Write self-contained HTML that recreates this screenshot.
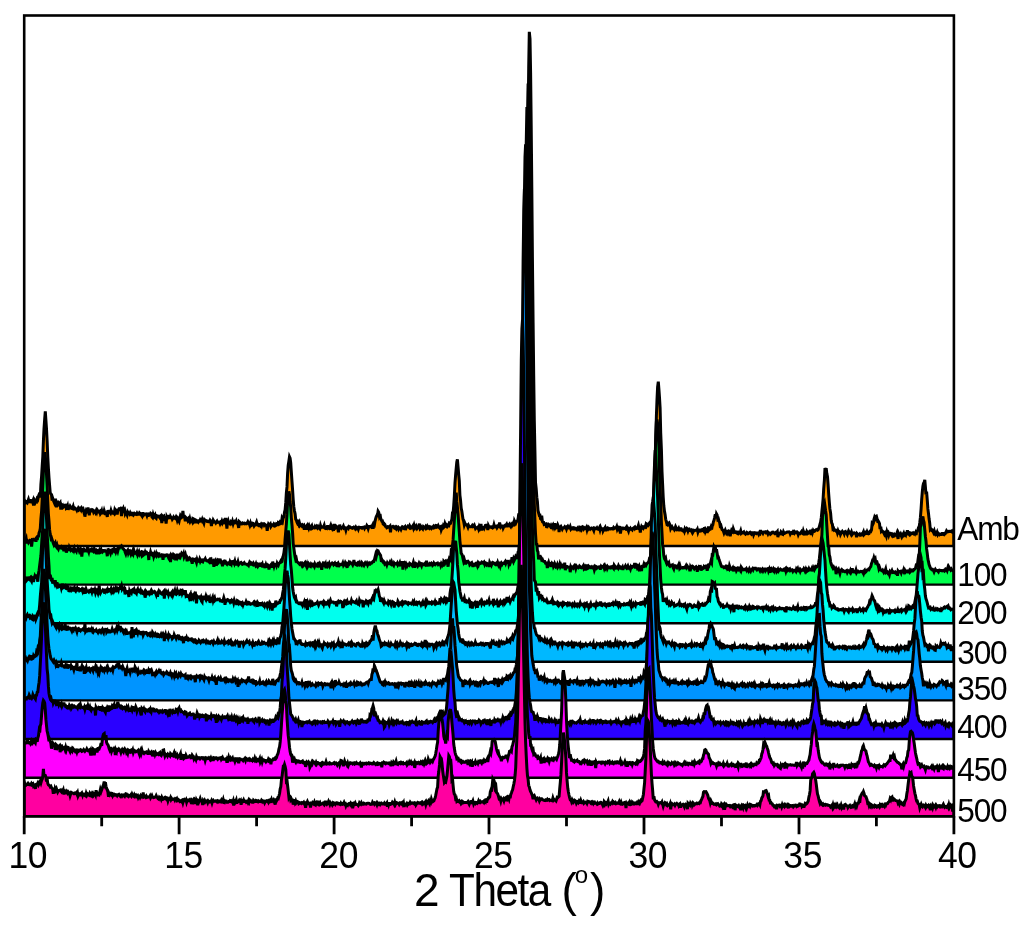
<!DOCTYPE html>
<html><head><meta charset="utf-8"><style>
html,body{margin:0;padding:0;background:#fff;}
svg{display:block;}
text{font-family:"Liberation Sans",Arial,sans-serif;fill:#000;}
</style></head><body>
<svg width="1024" height="929" viewBox="0 0 1024 929">
<rect width="1024" height="929" fill="#fff"/>
<clipPath id="pc"><rect x="24.2" y="0" width="929.7" height="929"/></clipPath>
<g clip-path="url(#pc)" stroke="#000" stroke-width="3.0" stroke-linejoin="miter" stroke-miterlimit="4">
<path fill="#FF9A00" d="M24.2 546V501.3l.6-.4 .6 .8 .7 .8 .6-.6 .6 .7 .6-1.5 .6-1.7 .7 2.4 .6 .1 .6-1.5 .6 .1 .6 .2 .7 1.3 .6-1.4 .6 5 .6-3.5 .6-1.5 .7 1.7 .6-1.2 .6 .4 .6-2.8 .6 .7 .7-3.3 .6-1.4 .6-1.9 .6 4.8 .6-13.2 .7-8.3 .6-10.2 .6-9.1 .6-15.7 .6-12.2 .7-10.1 .6-7.5 .6 8.7 .6 8.9 .6 11.6 .7 16.7 .6 11.2 .6 9.5 .6 7.4 .6 7.2 .7 1.7 .6 .6 .6 5.7 .6-2.2 .6 1.9 .7 1.7 .6-3 .6 2.1 .6 3.1 .6 3.2 .6-4.8 .7 1.3 .6-.8 .6 1.3 .6-.7 .6-.8 .7 6.8 .6-4.7 .6 1.1 .6-.6 .6 1.9 .7-.6 .6-.3 .6-1.2 .6-.1 .6 3.3 .7-.5 .6-1.7 .6 3.5 .6-1.8 .6-.3 .7-1.5 .6 .9 .6 1.4 .6 .2 .6 0 .7-2 .6 2.5 .6-.1 .6-.7 .6 .7 .7 .1 .6 1.2 .6-1.2 .6 .6 .6-1.9 .7 .7 .6 .9 .6-.8 .6 1.3 .6-1.6 .7 1.3 .6-.6 .6 2.3 .6-1.9 .6 7.3 .7-4.3 .6-2 .6 .8 .6-1.2 .6-2.5 .7 3.8 .6 4.1 .6-5.2 .6-.3 .6 .9 .7 .1 .6-1.1 .6 .3 .6 1.9 .6-1 .7-.1 .6 1.4 .6-1.5 .6 1.4 .6-2.2 .7 1 .6 .2 .6 .9 .6-.6 .6 2.3 .7-1 .6-1.7 .6 3 .6-3.5 .6 3.1 .7-2.9 .6 1.9 .6 2.1 .6-3.2 .6 2 .7 3.3 .6-6.7 .6 1.8 .6 .3 .6-.1 .7 .9 .6-2.4 .6 2 .6-.6 .6 .8 .7-.2 .6 .7 .6-3.1 .6 1.5 .6-1.6 .7 .8 .6 3.5 .6-4.2 .6-.3 .6-1.3 .6 0 .7-.4 .6 1.4 .6 6.4 .6-9.3 .6 3.6 .7-1.8 .6 1.9 .6-.7 .6 3.8 .6-1.1 .7 .8 .6 1.5 .6-2.7 .6 1 .6 0 .7 1 .6-1.3 .6 1.2 .6-.4 .6 1.2 .7 .2 .6-2.9 .6 2.2 .6-.9 .6 .4 .7 .5 .6 .2 .6-1.2 .6 1.1 .6-.1 .7-.1 .6-1.3 .6 .6 .6 .4 .6 1.2 .7 1 .6-2.6 .6 0 .6 1.4 .6-.7 .7-.2 .6 0 .6-.1 .6 1.6 .6-2.1 .7 3.1 .6-2.2 .6 .4 .6-.3 .6-1.1 .7 .5 .6 3 .6 .7 .6-2.7 .6 2 .7-1 .6-.9 .6 2.8 .6 .6 .6-2.6 .7 .3 .6 .4 .6-.2 .6 1 .6 .8 .7-1.4 .6 .9 .6 5.6 .6-7 .6 .7 .7-.5 .6 4.7 .6-3.4 .6 .5 .6 5.6 .7-6.8 .6 1.2 .6-1.2 .6 .1 .6-1.8 .7 3.8 .6-2.4 .6 1.1 .6 0 .6 1.6 .7-1 .6-1.2 .6 .9 .6-.1 .6 .5 .7-1.5 .6 1.2 .6 2.3 .6-1.6 .6 1.2 .6 1.2 .7-3.2 .6-2.4 .6 1 .6 1 .6-.5 .7-6.2 .6 5.4 .6 .6 .6 .6 .6 3.7 .7-3.6 .6 .6 .6 .7 .6 1.5 .6-1.4 .7 1.4 .6-1.8 .6 2.6 .6-1.1 .6 0 .7 1.4 .6-3 .6 .3 .6 2.1 .6-1.2 .7 .5 .6 3.1 .6-2.8 .6 .4 .6-.1 .7 1.2 .6-.8 .6 0 .6-1.4 .6 .9 .7 .4 .6-1.5 .6 2.1 .6-.1 .6 1.5 .7-3.4 .6 .6 .6 .1 .6 .3 .6 .6 .7-.1 .6 .5 .6 0 .6-.2 .6-1.4 .7 .9 .6 5 .6-3.8 .6 .1 .6-2.2 .7 1.2 .6 .4 .6 .5 .6 .8 .6-1 .7-.9 .6 1.2 .6-.1 .6 0 .6-.2 .7 1.7 .6-1.3 .6 .6 .6-1.7 .6 1.7 .7-1.3 .6-.9 .6 1.8 .6 .3 .6-4.9 .7 4.4 .6 6.2 .6-6.6 .6-1.4 .6 2.2 .7 0 .6 .8 .6-1.2 .6 1.5 .6-.1 .7-2.3 .6 2.2 .6-1.9 .6-.4 .6 1.3 .7-.3 .6-1.3 .6 2.1 .6 .4 .6 .8 .7 3.5 .6-6.2 .6 .6 .6 1.8 .6 0 .6-.3 .7-.7 .6 .5 .6-.4 .6-.1 .6 .7 .7-.3 .6-.2 .6 .3 .6-.5 .6-1.3 .7 1.3 .6 .5 .6 1.7 .6-1.9 .6 2.3 .7-.5 .6-2.1 .6 .2 .6 .8 .6 1.6 .7-1.2 .6 .3 .6-1.2 .6-1.5 .6 2 .7 1 .6 .4 .6-1 .6 .1 .6 1 .7-1.2 .6 1.3 .6-2.1 .6 .1 .6 0 .7 1.5 .6-.9 .6 .6 .6 .3 .6 0 .7 5.7 .6-4.7 .6-2 .6 .9 .6-.3 .7-.8 .6 2.6 .6-.9 .6-.9 .6-.2 .7 .6 .6-1.3 .6 .6 .6 1.3 .6-.4 .7-1.7 .6 .2 .6 2 .6-3.2 .6 .4 .7-.9 .6 1.3 .6-.6 .6 .3 .6-4.5 .7 1.6 .6-3.6 .6 0 .6-4.3 .6-2.5 .7-7.7 .6-9.7 .6-5.6 .6-13.5 .6-8 .7-4.4 .6-4.2 .6 1.3 .6 4.6 .6 9 .7 9.9 .6 8.5 .6 9.4 .6 7.2 .6 3.9 .7 3.1 .6 5.6 .6 .5 .6 2.2 .6 1.3 .7-1 .6 1.9 .6-1.4 .6 2.5 .6-.8 .7 .9 .6 .7 .6-1 .6 .8 .6-.5 .6 4.3 .7-2.6 .6-.8 .6 0 .6-.7 .6 4.2 .7-3.2 .6 1.5 .6-2 .6 1.5 .6 .7 .7-1.5 .6-1 .6 2.4 .6-.4 .6-.2 .7 .3 .6-1.3 .6 1.1 .6-.1 .6-1.1 .7 1.2 .6-1 .6 1.2 .6 .2 .6 .6 .7-3.2 .6 1.9 .6-.5 .6 .3 .6-.2 .7 .1 .6-1.6 .6 2.6 .6 .4 .6-.4 .7 .3 .6-1.9 .6 0 .6 1.5 .6 .4 .7-.9 .6-1.5 .6 3.7 .6-2.9 .6 1.4 .7-1.9 .6 4.6 .6-7 .6 4.7 .6-.5 .7-2 .6 .5 .6 1 .6 .4 .6 4.4 .7-4.8 .6-2.9 .6 2.7 .6 0 .6 .9 .7-.9 .6 0 .6-1.2 .6 1.7 .6-.5 .7 .6 .6 2.1 .6-2.2 .6 .1 .6-.6 .7 .9 .6-1.5 .6 .6 .6-.3 .6 .4 .7 .5 .6 .2 .6-.6 .6 .2 .6-.7 .7 .3 .6 1.1 .6-1.2 .6 1.2 .6-.6 .7-.3 .6 1.5 .6-1.9 .6 0 .6 .3 .7 .2 .6-.1 .6 .5 .6-.6 .6 .2 .7-.5 .6 1.1 .6-1.3 .6 0 .6 .3 .6-1.7 .7 1 .6 1.9 .6-2 .6 .1 .6-.1 .7-.2 .6 .7 .6-.6 .6-1.2 .6 3.5 .7-4.5 .6 .6 .6-3.5 .6-2.5 .6-2 .7-1.4 .6 .1 .6-4.2 .6 1 .6 3.5 .7-1.9 .6 4 .6 1.9 .6 1.3 .6-.1 .7 2.9 .6 .5 .6-.6 .6 .7 .6 1.9 .7 .4 .6 1 .6-.3 .6-.9 .6 .1 .7 .3 .6-.7 .6 6 .6-5 .6-.6 .7 .1 .6-.4 .6 .6 .6 .7 .6-.6 .7 1.2 .6 .6 .6-1.9 .6 .5 .6-.3 .7 1.8 .6-1.2 .6 .2 .6 .3 .6 1.2 .7-1.7 .6-1 .6 .4 .6 .9 .6-.5 .7-.7 .6 3.1 .6-2.3 .6-.6 .6-.1 .7-.9 .6 .5 .6 .7 .6-1.5 .6 1.1 .7 1.2 .6-.4 .6-.9 .6-.9 .6 1.9 .7-2.4 .6 2.1 .6-1 .6 1.1 .6-1.2 .7 2.1 .6-.7 .6 0 .6-.9 .6-3.3 .7 5.3 .6-.5 .6-1.1 .6 .9 .6 .7 .7-2.2 .6 .5 .6 0 .6 .8 .6-1.3 .7 1.1 .6-1.2 .6 1.7 .6 0 .6-1 .6 .8 .7-1.2 .6 .4 .6 1 .6-.9 .6 .3 .7-1.1 .6 1.3 .6-.2 .6-1.4 .6-.9 .7 .1 .6 1.7 .6-.2 .6-1.2 .6 1.4 .7 .7 .6-1 .6-.3 .6 3.2 .6-1.5 .7-.3 .6-2 .6 1.2 .6-.7 .6-2.8 .7 1.8 .6 .7 .6-1 .6 1 .6-.8 .7 .3 .6-2.6 .6 .4 .6-.2 .6-1.9 .7-2.3 .6-6.2 .6-.1 .6-7 .6-8.9 .7-14 .6-7.7 .6-6.7 .6-6.4 .6-2.7 .7 8 .6 7.2 .6 6.3 .6 14.2 .6 4.7 .7 8.5 .6 2.6 .6 4.3 .6 4 .6 1.7 .7 3.9 .6-1.7 .6 1.4 .6-.1 .6 .1 .7 1.2 .6 1.5 .6-1.7 .6 1.2 .6-.2 .7 .3 .6-.1 .6-.3 .6-.9 .6 .9 .7-.7 .6-.7 .6 1.8 .6 1.6 .6-.8 .7 .3 .6-.6 .6-.4 .6 1.8 .6-2 .7 1.6 .6-1.6 .6-2.7 .6 6.4 .6-3.3 .7 .4 .6 0 .6 1 .6-1.5 .6-1.6 .7-.2 .6 .6 .6 .5 .6 3.7 .6-4.3 .6 1.3 .7 0 .6 .2 .6-.4 .6 .5 .6-.4 .7 .9 .6-.6 .6-2.4 .6 2.1 .6 .1 .7-.7 .6-.2 .6 1.6 .6-.9 .6-1 .7 .5 .6-3.7 .6 2.5 .6 1.9 .6-.7 .7 .5 .6-1.9 .6 3 .6-1.2 .6-.2 .7-1.2 .6 0 .6-.9 .6 2.6 .6-2.2 .7 .8 .6 .1 .6-1.2 .6 1.1 .6 .9 .7-1.9 .6 .9 .6-1.1 .6-1.3 .6 3.3 .7-5.3 .6 1.3 .6 .8 .6-1.4 .6-.5 .7-.5 .6-2.7 .6-4.6 .6 4.9 .6-4.5 .7-1.1 .6-3.1 .6-3.4 .6-6.1 .6-7.6 .7-15.2 .6-19.1 .6-20.1 .6-52.3 .6-50.4 .7-70.1 .6-73.3 .6-72.4 .6-51.8 .6-36 .7 6.9 .6 34.1 .6 53.2 .6 61.7 .6 68.9 .7 66.3 .6 52.9 .6 44.9 .6 29.4 .6 32.3 .7 6.3 .6 8.4 .6 4.5 .6 8.8 .6 2.3 .7 2.6 .6-.1 .6 3.5 .6 .5 .6-3.6 .7 5.9 .6 .7 .6 .1 .6 2.2 .6-.2 .7-.5 .6-.1 .6 4.1 .6-1.7 .6-.9 .7-.9 .6 .5 .6 .8 .6 .9 .6-1.2 .6 1.3 .7-1 .6 1.5 .6-1.9 .6 1.2 .6-3.2 .7 4 .6-1.1 .6 1.4 .6-.3 .6-2.2 .7 1.6 .6 5.4 .6-4.5 .6-.3 .6-.7 .7 1.5 .6 1.1 .6-1.2 .6-.2 .6 0 .7-1 .6 .9 .6-.4 .6 1.7 .6-1.7 .7-1 .6 1.2 .6 .5 .6 .1 .6-1.4 .7 2.4 .6-.7 .6-.5 .6-.2 .6 1 .7-.6 .6 .6 .6-.4 .6 .3 .6 .8 .7-.9 .6-.7 .6 1.6 .6-.6 .6-.8 .7 1.5 .6-1 .6 1 .6-1.8 .6-1 .7 .3 .6 1.8 .6-.8 .6 .6 .6 0 .7-1.2 .6 2.4 .6-2 .6 .9 .6-1.2 .7 1 .6 .7 .6-.8 .6-.3 .6 .5 .7-.3 .6 .8 .6 1.4 .6-2.6 .6 .2 .7 .4 .6 .1 .6-.8 .6 1.2 .6 .3 .7-.5 .6-1.1 .6 2.1 .6-2.2 .6 1.6 .7 .4 .6-2 .6 3.3 .6-1.2 .6-.8 .7-1.1 .6 3.2 .6-2 .6-.7 .6-.3 .7 1.1 .6-.8 .6 .3 .6 .4 .6 0 .7-.5 .6 0 .6 .5 .6-.1 .6-1.3 .6 .8 .7-.6 .6-.2 .6 .5 .6-1.4 .6 2.6 .7-1.4 .6 1 .6-1.8 .6 .1 .6 6.4 .7-4.2 .6-1.3 .6-.1 .6 0 .6 .7 .7-.4 .6-.2 .6 .6 .6-.9 .6 2.7 .7-2.4 .6 1.4 .6 1.5 .6-2.2 .6 .5 .7-1 .6 1 .6 0 .6 .6 .6-1.4 .7-.4 .6-.5 .6 1 .6-1.1 .6 .9 .7 0 .6-.6 .6-.5 .6-1.8 .6 2.8 .7-.1 .6 4.3 .6-3.9 .6-1.8 .6 1.1 .7-.8 .6 .9 .6-1.2 .6-.2 .6 .4 .7-2.4 .6 1.1 .6-1.6 .6 .3 .6 .9 .7-.9 .6-1.6 .6-.7 .6 2.8 .6-6 .7-1.5 .6-6.6 .6-4.6 .6-14 .6-12.5 .7-18 .6-22.3 .6-23.7 .6-16 .6-12.5 .7-5.5 .6 7.5 .6 8.5 .6 10 .6 25.2 .7 16.4 .6 22.2 .6 12.6 .6 13 .6 8.7 .7 5.6 .6 3.2 .6 4.7 .6 2.1 .6 2.5 .7-.5 .6 1.6 .6-.3 .6-1.1 .6 1.3 .7 3.7 .6-1.2 .6-.7 .6 1.3 .6 .6 .7-.3 .6 1.2 .6-1.1 .6-1.8 .6 1.2 .6 2 .7-.1 .6-.3 .6-1.1 .6 1.6 .6 0 .7-1.2 .6 0 .6 1.1 .6 .7 .6 .4 .7-.7 .6 1.3 .6-2.4 .6 1.2 .6-.9 .7-1 .6 .6 .6 1.9 .6-1.6 .6-.2 .7 1.5 .6 .2 .6-.6 .6 1.2 .6-2.5 .7 3.2 .6-1.1 .6-.6 .6 0 .6-.3 .7-.1 .6 .4 .6-1.1 .6 2.7 .6-1.8 .7 .6 .6-.7 .6 0 .6 .9 .6-.2 .7-1.2 .6 .3 .6 .8 .6-2.2 .6-.2 .7 3 .6-1.5 .6-1.8 .6 5 .6-3.3 .7-3.2 .6 3.5 .6-.6 .6-.2 .6-1.8 .7 2.1 .6-3.5 .6-1 .6-3.2 .6-1.5 .7-3 .6-3.1 .6 4.1 .6-4.3 .6 1.1 .7 4.2 .6-.5 .6 2.3 .6 1.1 .6 3.7 .7-.5 .6 2.4 .6 1.7 .6 .5 .6 .7 .7 2.2 .6-1.5 .6-1.2 .6 1.7 .6 1.3 .7-1.1 .6 1.1 .6-1.4 .6-.8 .6 .4 .7 4.8 .6-3.5 .6-1.9 .6 1.2 .6 .3 .7-3.5 .6 1.7 .6 .9 .6 1 .6-.1 .7-.2 .6 1 .6 .4 .6-.9 .6 .8 .6-.6 .7-.2 .6-1.7 .6 2.5 .6-.6 .6 .1 .7-.5 .6-.5 .6 1.3 .6 .2 .6 .7 .7-.6 .6-1.1 .6 .4 .6 .8 .6-.5 .7-.3 .6-.4 .6 .9 .6-.3 .6 1.2 .7-.5 .6-2.1 .6 2.9 .6-1.4 .6-.4 .7 .4 .6 .4 .6-.6 .6 0 .6 0 .7 1.4 .6-1.3 .6 .5 .6-3.5 .6 2.7 .7-.3 .6-.2 .6 1.1 .6-1.2 .6-.1 .7 0 .6-.2 .6 1.2 .6 0 .6-.8 .7 1.7 .6-1.2 .6 .6 .6-.1 .6 1 .7-.6 .6-.7 .6-.7 .6-.1 .6 .8 .7 .1 .6 .5 .6-.9 .6 .5 .6-.7 .7-.9 .6 5.6 .6-3.1 .6-.4 .6 .4 .7-.2 .6-1.9 .6 .8 .6 1.4 .6 .3 .7-2.5 .6 1.2 .6 .3 .6-.3 .6-.5 .7-.2 .6-.5 .6 0 .6 0 .6-.1 .7 .5 .6 1.7 .6-1.1 .6-.3 .6 .5 .7-1 .6 1 .6 .4 .6-1.8 .6 .6 .7 .3 .6-.6 .6-.1 .6 .6 .6 2.1 .6-1.4 .7-.1 .6 .4 .6-1 .6-.8 .6 1.3 .7 .5 .6-2.5 .6 1.9 .6 .6 .6-1.2 .7-.2 .6 3.1 .6-3.4 .6 .9 .6 .3 .7-.9 .6-.5 .6 1 .6-.8 .6 3.1 .7-5.2 .6 2.6 .6-1.8 .6 1 .6-.1 .7-.9 .6-.3 .6-.6 .6 .4 .6 .3 .7-.7 .6-1.6 .6-1.3 .6-2.5 .6-1.9 .7-4.6 .6-6.2 .6-5.8 .6-6.6 .6-10.2 .7-8.9 .6-11.8 .6 1.9 .6-2 .6 5.2 .7 3.5 .6 7.8 .6 9.4 .6 8 .6 6.9 .7 4 .6 7.4 .6 3 .6 1 .6 4.7 .7-.5 .6 1.7 .6-.3 .6 0 .6 1 .7-.3 .6 2.1 .6-1.9 .6 1.5 .6-.8 .7 .5 .6 2.3 .6-1.3 .6-.7 .6-.9 .7 1 .6 .1 .6 1.4 .6-2.1 .6-.3 .7 1.5 .6 .2 .6 1.2 .6-1.9 .6-1.4 .7 1.6 .6-.4 .6 .6 .6 1.2 .6-1.8 .7 2.1 .6-.8 .6-.3 .6-.5 .6 .4 .7 0 .6 1 .6 3 .6-3.6 .6 .6 .7 .5 .6-.1 .6-.6 .6 1.1 .6-.4 .6 .2 .7-1.4 .6-.2 .6-1.3 .6 2.7 .6-.6 .7-1.3 .6 .8 .6 0 .6-1.7 .6 1.4 .7 .5 .6-.2 .6-1.8 .6-.6 .6 .3 .7-1.6 .6-6.1 .6 .8 .6-1.3 .6-3.8 .7-2.3 .6 1.1 .6-1.9 .6-.3 .6 2.2 .7 3 .6-.1 .6 1 .6 1.5 .6 5.3 .7-2.3 .6 4.5 .6-.6 .6 .6 .6 .8 .7 1.1 .6 1.3 .6-1.2 .6 1.2 .6 1.6 .7-4.1 .6 1.7 .6-.8 .6 2.2 .6-1.8 .7 0 .6 .1 .6 1.3 .6 .9 .6-.8 .7 1.6 .6-.4 .6-1.3 .6 .8 .6-.6 .7-.1 .6-1.6 .6 3.3 .6 2.4 .6-5.1 .7 1.5 .6-.3 .6-1 .6 1.6 .6-2.8 .7 2.9 .6-1.2 .6-1.2 .6 1.8 .6-.7 .7 .8 .6-3.1 .6 3.3 .6-5 .6 2.1 .7 1.4 .6 .8 .6-1.1 .6 .7 .6-1 .7 .3 .6-.1 .6-.5 .6 .8 .6-.4 .7 .8 .6-1.3 .6 2.2 .6-3.4 .6-.1 .7-2 .6-2 .6-.9 .6-4.2 .6-5 .7-8.6 .6-9.4 .6-7.5 .6-5.7 .6-2.8 .6-.8 .7-2.7 .6 7.1 .6 7.5 .6-3 .6 7.6 .7 9.8 .6 4.6 .6 5.6 .6 3.8 .6 6.7 .7-.7 .6 .6 .6 1.2 .6 0 .6 1.4 .7-1.4 .6 2.7 .6-.5 .6 1.8 .6-.3 .7-1.9 .6 1.9 .6-1.1 .6 .6 .6 .8 .7-.5 .6 .2 .6 0 .6-.9 .6 0 .7 1 .6 .2 .6-1.1 .6 .1 .6-1.2 .7-1.6 .6 .9 .6 .1 .6-.5 .6 .1 .7-.2 .6 .2 .6-.2 .6 .3 .6-.6 .7 1.3 .6 .3 .6 1.2V546"/>
<path stroke-width="2.4" d="M24.2 546.0H953.9"/>
<path fill="#00FF4C" d="M24.2 584.6V540.8l.6-.4 .6-.4 .7-1.6 .6 5.1 .6-3 .6 .8 .6 1.3 .7-1.2 .6-.8 .6 .4 .6-.5 .6 6 .7-6.5 .6 .1 .6-.6 .6 .4 .6 .1 .7-.9 .6 2.6 .6-4.4 .6 2.8 .6-3.8 .7-.1 .6-3.5 .6-1.5 .6-2.9 .6-9.7 .7-7.5 .6-11.4 .6-13.4 .6-16.2 .6-12.1 .7-5.8 .6 4.7 .6 5.5 .6 11.8 .6 11.1 .7 16.5 .6 12.3 .6 7 .6 8.6 .6 4.5 .7 2.9 .6 4.3 .6-1.8 .6 1.8 .6 1.8 .7 1.8 .6-1.1 .6-1 .6 2.9 .6 .9 .6-1.5 .7 2.8 .6 1 .6-2 .6 .6 .6-.4 .7 .6 .6-.9 .6 .8 .6 .7 .6-.1 .7 2.9 .6-4.3 .6 .2 .6 .4 .6 5 .7-2.7 .6-.7 .6-.5 .6 2.3 .6-3.5 .7 1.5 .6 1.2 .6-.8 .6 .7 .6 .6 .7-1.4 .6 1.3 .6-1.9 .6 2.1 .6-.5 .7 1.1 .6-2.7 .6 2.8 .6-3.3 .6 1 .7 2.2 .6-1.2 .6-1.2 .6 1.6 .6 6 .7-6.3 .6-2.1 .6 4.1 .6-2.4 .6 .7 .7 .2 .6 .3 .6-.1 .6-3.6 .6 2.6 .7 1.9 .6-2.9 .6 3.3 .6-2.2 .6 .5 .7-1.1 .6 1 .6-.8 .6 1.3 .6-1.2 .7 3.6 .6-4.9 .6 3.4 .6 2.4 .6-3.8 .7 .4 .6 .9 .6-1.2 .6 2.3 .6-.2 .7-2.4 .6 2.6 .6-3.4 .6 2 .6-.7 .7 .2 .6-.4 .6 .8 .6 .1 .6-.2 .7 5 .6-6.5 .6-.2 .6 1 .6 .7 .7 1.7 .6-2.8 .6-.2 .6 1.4 .6-1.5 .7-.7 .6 1.3 .6-1.3 .6 .6 .6 2 .7-1.9 .6-.7 .6 1.9 .6-2.5 .6-1.1 .6 .3 .7-1.3 .6 .1 .6-.6 .6 .9 .6 1.5 .7 .6 .6 .7 .6 .5 .6 2.2 .6 1.5 .7-2.4 .6-.4 .6-.8 .6 2.7 .6-1.6 .7-.5 .6 1.6 .6 1.7 .6-1.7 .6 1 .7-2.1 .6 1.8 .6-2.9 .6 1.9 .6 1.1 .7-.3 .6 .8 .6-1.7 .6 2.5 .6-1.6 .7-1.3 .6 2.2 .6-1.3 .6 .6 .6 1.4 .7-2.9 .6 .2 .6 3.5 .6-.5 .6-.4 .7-2.1 .6 1.6 .6-.2 .6-1 .6 .8 .7-.1 .6 6.6 .6-7.5 .6 2.2 .6-2.6 .7 2.3 .6 .5 .6-1.5 .6 .3 .6 2.7 .7-2.3 .6 1.8 .6-.6 .6-1.7 .6 1.9 .7-1.3 .6 .9 .6-2.5 .6 2.3 .6 1.3 .7-.1 .6-.1 .6-1.1 .6 .3 .6 4.7 .7-4.8 .6 .1 .6-.1 .6 .6 .6-.4 .7-.5 .6 .1 .6 1.5 .6 1.4 .6-1 .7-1.1 .6 6.4 .6-5.4 .6-1 .6 1.2 .7 .6 .6-3 .6 .5 .6 1.8 .6-1.6 .7 5 .6-2.4 .6-4.1 .6 3.7 .6-.9 .6 .7 .7-1.6 .6 1.1 .6-1.8 .6-1.4 .6 .9 .7 .8 .6-1.5 .6 3.2 .6-1.4 .6-1.3 .7 3 .6 .5 .6 3.6 .6-3.1 .6 .9 .7-.1 .6-.9 .6 .7 .6 1.2 .6-.4 .7 4.2 .6-4.6 .6-.2 .6 .2 .6 .9 .7-.6 .6 1.5 .6 1.6 .6-2.8 .6 1.7 .7-.6 .6 .3 .6-1.8 .6 1.9 .6-1.4 .7 .8 .6 .8 .6 .3 .6-1.9 .6 .1 .7-.3 .6-1 .6 1.6 .6 0 .6 .5 .7-.2 .6 .5 .6 .6 .6-2.8 .6 3.8 .7-5.2 .6 6.5 .6-3.1 .6 1.1 .6-.7 .7 5.5 .6-4.5 .6-1 .6 4.5 .6-3.9 .7-1.1 .6 1.7 .6-1.4 .6 1 .6-.9 .7-2.5 .6 2.8 .6 1.2 .6-.2 .6 3.7 .7-4.5 .6-.5 .6-.2 .6 1.5 .6-.5 .7 1.7 .6 .6 .6-1.2 .6-.2 .6 .9 .7 .3 .6-2.2 .6 1.3 .6 .9 .6-3.7 .7 2.1 .6 .5 .6-.9 .6 1.4 .6-2.1 .7 2.9 .6-.1 .6-1.1 .6 .7 .6-2 .7 2.8 .6-.7 .6-.9 .6-.2 .6-.4 .6 .7 .7 1.1 .6-.3 .6-.5 .6-.6 .6 1.1 .7 .1 .6 .2 .6 .2 .6 .5 .6-.5 .7 .9 .6-1.7 .6 1.9 .6-3.3 .6 .4 .7 .6 .6 1.2 .6 .4 .6-1.5 .6 1 .7-.3 .6 1.2 .6-1.5 .6 1.7 .6-.7 .7 1.7 .6-.9 .6-1 .6 .9 .6 0 .7-1 .6 .8 .6-1.1 .6 3.3 .6-2.6 .7 .1 .6 1.8 .6-.1 .6-1.9 .6 1.7 .7-.3 .6-1 .6 .8 .6 3.6 .6-3.1 .7-1 .6-.7 .6 .7 .6 2.2 .6-5.9 .7 2.2 .6 2.2 .6-2.1 .6 2.6 .6-3.4 .7 2.1 .6-2.2 .6 1.2 .6 .9 .6-1.7 .7-.6 .6-.7 .6-1.2 .6 1 .6-.4 .7-4.3 .6-1.6 .6-2.8 .6-5 .6-8.7 .7-8.4 .6-7.1 .6-9.3 .6-14.3 .6-2.2 .7-6.6 .6 3.3 .6 7.4 .6 5.1 .6 10.5 .7 7.4 .6 7.8 .6 10.8 .6 4.3 .6 4.3 .7 4.8 .6 2.6 .6-1 .6 3 .6 .4 .7 .9 .6 .3 .6 .7 .6-.9 .6-.2 .7 1.7 .6 1.1 .6-1.2 .6 1.5 .6-.7 .6-1.6 .7-.9 .6 1.8 .6 1.3 .6-1.6 .6 2.7 .7-1.3 .6-2 .6 .7 .6 1.9 .6 .3 .7-2.3 .6 .8 .6 .5 .6-.9 .6 .8 .7 1.2 .6-2.4 .6 1.3 .6 .3 .6 .2 .7-1.4 .6 .9 .6-1.3 .6 .8 .6-1.3 .7 1.3 .6 .2 .6 4.7 .6-4.3 .6-1.7 .7-2.1 .6 3.8 .6-.2 .6-1.3 .6 4.1 .7-3.2 .6-.8 .6 1.5 .6-1.2 .6-1.1 .7 2.3 .6-1.4 .6 0 .6-.7 .6-.6 .7 .5 .6 1.1 .6-1 .6-.6 .6 1.6 .7 .5 .6-1.6 .6 .1 .6-.5 .6 4 .7-2.6 .6-.2 .6 .6 .6-.1 .6-.3 .7-.1 .6-1.4 .6 2.1 .6-1.1 .6 .5 .7-1.9 .6 1.1 .6 .6 .6 3.6 .6-4 .7 .5 .6-1.8 .6 .8 .6-1 .6 .6 .7 .3 .6 .6 .6 1.1 .6-1.6 .6-3.3 .7 3.3 .6 .6 .6 .6 .6 .3 .6-1.5 .7-.6 .6 1.5 .6-.7 .6-.9 .6 2 .7-.4 .6 .7 .6-2.1 .6 .8 .6 .6 .7 1.1 .6-1.4 .6-1 .6 1.1 .6 .1 .6-1 .7 1.7 .6-1.3 .6-.5 .6 1.1 .6 0 .7-1.2 .6 .1 .6-.2 .6-.9 .6-.7 .7 .1 .6-1.5 .6-2.6 .6-2.5 .6 1.9 .7-3 .6-3.1 .6 .3 .6 1.7 .6 .7 .7 1.3 .6 .8 .6 4.5 .6-.3 .6 1.7 .7 .9 .6-.7 .6 .7 .6 2 .6-.5 .7-.4 .6 1.6 .6-2 .6 1 .6-.2 .7-.1 .6-1.3 .6 1.6 .6 .4 .6-1.9 .7 2.1 .6 0 .6 .8 .6-2.2 .6 .8 .7-.2 .6 .3 .6 .3 .6-1.1 .6 1.7 .7-1.1 .6 .3 .6-1.4 .6 2.2 .6-.3 .7 .5 .6-3.9 .6 8.4 .6-6.1 .6-.6 .7 1.5 .6-.8 .6 2.5 .6-1.5 .6 1.1 .7-1.6 .6 .1 .6 .7 .6-1.5 .6 .5 .7 .8 .6 0 .6 .9 .6-1.2 .6-2.1 .7 2.6 .6 2.7 .6-2.9 .6-1.2 .6 .4 .7 .6 .6 1.3 .6-1.1 .6-1.5 .6 1.3 .7-.8 .6 1 .6 1.2 .6-2.1 .6 .1 .7 .8 .6-.2 .6-.6 .6 .8 .6-.8 .7-3.2 .6 5.6 .6-2 .6 .4 .6 .2 .6-1.1 .7 .7 .6-.9 .6-.5 .6 .8 .6 1.5 .7-.7 .6-1.5 .6 1 .6 .5 .6-.7 .7-.6 .6 .2 .6-.4 .6 1.3 .6-.6 .7 0 .6-.3 .6 1.8 .6-1.8 .6 1 .7-2.6 .6 4.7 .6-5.3 .6 .7 .6 1 .7-1.5 .6 .8 .6-1 .6 1.1 .6 4.2 .7-6.5 .6-2.1 .6 .6 .6 1 .6-8.3 .7 .8 .6-6.8 .6-5.7 .6-9.8 .6-9.1 .7-10.2 .6-9 .6-8.9 .6 8.7 .6 5.7 .7 7.6 .6 9.1 .6 8.3 .6 8.7 .6 5.6 .7 6.8 .6 1 .6 1.3 .6 3.2 .6 2.6 .7-1.9 .6 2.1 .6 3 .6-2.4 .6-.5 .7 .4 .6-.6 .6 .7 .6 .6 .6 2.1 .7-.7 .6-1.1 .6-.4 .6 1.6 .6 2.8 .7-4.1 .6 2.3 .6 0 .6-1.5 .6-.4 .7 .7 .6 1.6 .6-2.1 .6 1.3 .6-1.8 .7 .7 .6-.3 .6-.4 .6-.7 .6 .6 .7-.4 .6 .7 .6-.8 .6 1.8 .6-1.4 .7 .5 .6 1.2 .6-.9 .6 .4 .6 0 .6 2.9 .7-4.4 .6 1.3 .6-.4 .6 1.5 .6-1.5 .7-.9 .6 .3 .6 .3 .6 .9 .6 .4 .7-.8 .6 1.1 .6-.1 .6-2 .6 1.7 .7-2.5 .6 2.9 .6 1.8 .6-2.1 .6-1.3 .7 1.1 .6-1.1 .6 .1 .6 .2 .6-.9 .7-1 .6 1.8 .6-1.5 .6 .6 .6 0 .7-2.2 .6 3.9 .6-1.6 .6 .9 .6-1.7 .7-.3 .6-4.2 .6 3 .6 1.2 .6-2.9 .7 1.2 .6-1.5 .6-1.8 .6 .8 .6 1.8 .7-4 .6 1 .6-6.4 .6 1.1 .6-2.5 .7-1.3 .6-5.3 .6-2.5 .6-15.5 .6-18.5 .7-24.7 .6-37.1 .6-45.8 .6-63.2 .6-75 .7-68.7 .6-68.6 .6-38.5 .6 4.1 .6 2.9 .7 47.4 .6 61.3 .6 68.5 .6 65.6 .6 52.7 .7 60.1 .6 31.4 .6 26.5 .6 15.9 .6 13.8 .7 10.4 .6 .1 .6 6.4 .6 1.3 .6 7.6 .7-3 .6 .6 .6-.4 .6 1 .6 2.2 .7-.4 .6 1.5 .6 .1 .6 .5 .6 0 .7 1.5 .6-.1 .6 0 .6 5 .6-3.5 .7-2 .6 2.2 .6-.9 .6 .7 .6-.7 .6 3.1 .7-3.6 .6 .5 .6 2.7 .6-1.1 .6-1.8 .7 1.6 .6 1.6 .6-.5 .6-1.5 .6 2.4 .7-1 .6 .2 .6-2.1 .6 2.2 .6-1.3 .7 1.8 .6 .1 .6-1.5 .6 .4 .6 2 .7-5.4 .6 7.5 .6-2.9 .6-.7 .6 0 .7 .7 .6 .1 .6 .1 .6-.3 .6 5.1 .7-5.2 .6 1.2 .6-1.3 .6 .2 .6 .8 .7-1.6 .6-.9 .6 .6 .6 2.3 .6-2.2 .7 .9 .6 .2 .6 .5 .6-.5 .6-1.1 .7 .7 .6 .8 .6 .2 .6-.2 .6-.8 .7-1.1 .6 2.5 .6-.9 .6 3.1 .6-2.5 .7-.9 .6-2.4 .6 3.9 .6-.3 .6-1.9 .7 .7 .6-.1 .6 .8 .6-.1 .6-.7 .7 .8 .6 .5 .6-.9 .6 2.6 .6-1.7 .7-1.8 .6 .3 .6 1.3 .6-.7 .6 0 .7-.5 .6-.1 .6 1.7 .6 0 .6-2 .7 .8 .6-.3 .6 .1 .6-1 .6 2.2 .7-1.9 .6 1.6 .6-1.3 .6-.5 .6 2.3 .7-1.5 .6 .5 .6 0 .6-.3 .6 1 .7-.1 .6-1.4 .6-.2 .6 1.2 .6 .8 .6-3.2 .7 1.1 .6 .6 .6 1.1 .6-.3 .6-.7 .7 1 .6-2.1 .6 1.2 .6-.2 .6 1.2 .7-.1 .6-.1 .6-.9 .6 2.9 .6-2.4 .7-.5 .6 .1 .6-1.1 .6 1.4 .6 .7 .7-.9 .6-1.2 .6 1.7 .6-.6 .6 .4 .7 1.6 .6-2.2 .6 .9 .6-.5 .6-1 .7-.2 .6 .1 .6-3.2 .6 4.2 .6 0 .7-1.2 .6 1.7 .6-1 .6 1.5 .6-1.3 .7 4.4 .6-3.9 .6-1.7 .6 5.3 .6-4.8 .7-.2 .6 .2 .6-2.1 .6 1.3 .6-.9 .7 1 .6-1.2 .6-.7 .6-.7 .6-.5 .7-1.7 .6-2.9 .6-.4 .6-3 .6-4.4 .7-10.7 .6-9.2 .6-12.4 .6-18.2 .6-18.4 .7-23.7 .6-21.6 .6-14 .6-2.4 .6 4 .7 7.5 .6 16.2 .6 24.2 .6 15.3 .6 16.6 .7 19.1 .6 11.1 .6 11.5 .6 3.8 .6 6.7 .7 3.2 .6 1.1 .6-1.1 .6 3.9 .6 1.4 .7-1 .6 .8 .6-.9 .6 3 .6 .6 .7-.8 .6-.4 .6 .2 .6-.4 .6 2.4 .7 1.5 .6-2.4 .6-.7 .6 .4 .6 .8 .6 .6 .7-1.5 .6 0 .6-1.4 .6 2.5 .6-1.5 .7 2.4 .6-.5 .6 .1 .6-.1 .6 .4 .7-.3 .6-.4 .6 .4 .6-.9 .6-1.2 .7 1.8 .6-1.2 .6 .9 .6 .2 .6 .1 .7 3.7 .6-4.1 .6 1.1 .6-1.6 .6-.4 .7 .4 .6 1.3 .6 .9 .6-.9 .6-.5 .7-.6 .6 .8 .6 4.3 .6-5.7 .6 1.8 .7-1.5 .6 .2 .6-.1 .6 4.1 .6-2.9 .7 .2 .6 .7 .6-.3 .6-1.7 .6 .6 .7-.6 .6 1 .6-.8 .6 4 .6-3.4 .7-.3 .6-2.4 .6-.6 .6-.2 .6-2.5 .7 1.4 .6-8 .6 .1 .6-4.4 .6-3.8 .7 1.4 .6-1.6 .6 5.8 .6-3 .6 3.8 .7 4.5 .6-.3 .6 2 .6 1.8 .6 1.6 .7 2.2 .6 1.5 .6 .3 .6 .1 .6 0 .7 .9 .6-.2 .6-.6 .6 .6 .6-1.5 .7 .2 .6 2.8 .6-.4 .6 .6 .6-3.3 .7 2 .6 1.3 .6 0 .6-.5 .6-.8 .7 3.4 .6-2.4 .6-1 .6 .4 .6 0 .7 2.4 .6-1.1 .6-1 .6 .7 .6-1.3 .6 .2 .7 1.5 .6-1.8 .6 2 .6-1.9 .6 .8 .7 .9 .6 .2 .6-.6 .6-.2 .6 .5 .7-.9 .6 1.5 .6-1.1 .6 .1 .6 1.4 .7-1.7 .6 1.3 .6 1 .6-1.5 .6-.3 .7-.8 .6 1.1 .6-1.5 .6 0 .6 .3 .7-.2 .6 .8 .6 .7 .6-.9 .6-.2 .7 .6 .6 .3 .6 1.1 .6-1.7 .6 .2 .7 1.3 .6-1 .6 1.4 .6-1.3 .6-.6 .7 0 .6 1.7 .6-.9 .6-.5 .6-.4 .7-.3 .6 2.5 .6-1.4 .6 3.1 .6-4 .7-.4 .6 2.1 .6-.5 .6 .6 .6-1.4 .7 1.6 .6-1.9 .6 .2 .6 .4 .6 2 .7-1.1 .6-1.1 .6 1.7 .6-.9 .6-.1 .7-.8 .6 .5 .6 0 .6 .6 .6-.3 .7 .1 .6-.7 .6 .7 .6-.9 .6 2.1 .7-2.2 .6 1.1 .6-1 .6 .8 .6-.6 .7-.5 .6 1.6 .6-.5 .6 .2 .6-.3 .7 1.4 .6-1.1 .6 .1 .6 .4 .6-.4 .7 1 .6-2.3 .6 .8 .6-1.1 .6 2.1 .6 .2 .7-1.1 .6 1.5 .6-1.5 .6 .7 .6-.3 .7-.4 .6 .1 .6-1.4 .6 .9 .6 1.5 .7-1.8 .6 1.7 .6-1.1 .6 1 .6-.4 .7-1.7 .6 1.3 .6 0 .6-.1 .6-.3 .7-1.5 .6 1.9 .6-.2 .6-1.6 .6 1.5 .7-1.3 .6-1.7 .6 .5 .6-.3 .6-.7 .7-1.3 .6-2.4 .6-4 .6-5.9 .6-6.4 .7-6.6 .6-4.5 .6-18.3 .6-5.3 .6-8.3 .7-1.3 .6 4.2 .6 4.6 .6 3.9 .6 10.7 .7 11.5 .6 9.4 .6 .9 .6 7.8 .6 2 .7 4.9 .6 2.3 .6 1.7 .6 1.4 .6 1.1 .7-1.2 .6 1.2 .6 .6 .6-.5 .6 5.8 .7-5.1 .6 .7 .6 .8 .6-1.1 .6 1.9 .7 2.1 .6-2.4 .6-.9 .6-.7 .6 .7 .7 1 .6-.4 .6 .3 .6 .7 .6 0 .7-.8 .6-.4 .6 1.8 .6-1.2 .6-.4 .7 .3 .6 .9 .6-1.5 .6 1.7 .6-1.4 .7-2.5 .6 4.6 .6-1.7 .6 0 .6 0 .7 .8 .6-1.9 .6 2.4 .6-1.1 .6-.3 .7 .9 .6 .2 .6-.3 .6-.4 .6-.1 .6 .2 .7-.2 .6 1 .6 1.1 .6-2.6 .6-.7 .7 2.1 .6-.6 .6-.9 .6-.7 .6 0 .7-.9 .6 .4 .6-1.2 .6-1.1 .6-.7 .7-3.1 .6-1.4 .6-2.2 .6-.1 .6-2.1 .7 2.1 .6-.9 .6 3.9 .6-.4 .6-.3 .7 2.6 .6 1 .6 2.9 .6-1.4 .6 1.7 .7 1.2 .6 .1 .6 .5 .6-.6 .6 1.1 .7 1.4 .6-.8 .6-1.1 .6-1.7 .6 3.1 .7-.7 .6 .4 .6 1.7 .6-.3 .6 1.5 .7-3.2 .6 .7 .6-.4 .6-1.2 .6 1.7 .7-.4 .6 .6 .6 .1 .6-.5 .6 1.1 .7 .4 .6-2.6 .6 4.8 .6-4.7 .6 .8 .7-.1 .6-.4 .6-.1 .6 1.5 .6-1.9 .7 0 .6 .7 .6-1.8 .6 1.8 .6-1.2 .7 1.4 .6-.8 .6 .4 .6-.3 .6 .8 .7 0 .6-1.1 .6 1.4 .6-.7 .6-1.3 .7 .8 .6 0 .6-.1 .6-1.3 .6 0 .7-.8 .6-.4 .6-2.7 .6 .5 .6-.8 .7-5.1 .6-4.5 .6 .3 .6-11.9 .6-16.9 .7-2 .6-6.3 .6-.2 .6-2.3 .6 4 .6 1.9 .7 7.4 .6 6.7 .6 4.5 .6 7.7 .6 4.2 .7 6.2 .6 2.6 .6 2.8 .6 1.6 .6 1.7 .7 1.1 .6 0 .6 .8 .6-.2 .6 .6 .7 1.7 .6-1.5 .6-1 .6 1 .6-.1 .7 .2 .6 .7 .6 .7 .6-1.5 .6-.2 .7 .4 .6 .1 .6 0 .6 .3 .6-.3 .7 .1 .6-.4 .6 .7 .6-.6 .6-1.4 .7 .3 .6 1.2 .6-2.2 .6 1.9 .6-3.2 .7 1.2 .6 .3 .6 1.3 .6-.8 .6 1.1 .7 .1 .6 .9 .6-.5V584.6"/>
<path stroke-width="2.4" d="M24.2 584.6H953.9"/>
<path fill="#00FFEE" d="M24.2 623.2V579l.6-2.4 .6 2.6 .7 1.8 .6-.7 .6-.8 .6-2.8 .6 2.1 .7 .6 .6-1.4 .6-.6 .6 2.7 .6 1.1 .7-3.4 .6 .5 .6 3.7 .6-3.7 .6-1.8 .7 2 .6-3.9 .6 2.5 .6 .8 .6 3.8 .7-8.2 .6-3.2 .6-5 .6-4.8 .6-4.7 .7-11.3 .6-9.9 .6-5.1 .6-25.5 .6-8.3 .7-4 .6 3.9 .6 9.8 .6 13 .6 14.4 .7 12.3 .6 11.8 .6 9 .6 13.3 .6-4.3 .7 3.2 .6 3.2 .6-3.4 .6 5.6 .6-2.2 .7 .4 .6 1.6 .6-3.1 .6 3.7 .6 1.3 .6-2.9 .7 3.5 .6 1.1 .6-.3 .6-.2 .6-.6 .7-.2 .6 2.5 .6-2.1 .6-2.2 .6 3.8 .7-.5 .6-.9 .6-.4 .6 2.4 .6 .5 .7 .2 .6-2.4 .6 .4 .6 3.9 .6 .1 .7-1 .6 .5 .6-2.2 .6 .4 .6-2 .7 4.7 .6-2.2 .6-1.2 .6 2.5 .6 .7 .7-1.7 .6-1 .6 3.1 .6-3 .6 .1 .7 1.7 .6-.7 .6 .5 .6-.3 .6-.8 .7 1.9 .6-2.1 .6 .2 .6 3.6 .6-.1 .7-.1 .6-3 .6 1.6 .6 .2 .6 .1 .7 .7 .6-1.2 .6 .6 .6-.1 .6-1.2 .7 1.9 .6-2.6 .6 3.9 .6-5.4 .6 4.5 .7-2.2 .6 2.6 .6-1.8 .6-.8 .6 1 .7 1.9 .6-2.4 .6-5.3 .6 6.4 .6 1.4 .7-1.3 .6-1 .6 0 .6-.9 .6 .7 .7 0 .6 2.9 .6-4.8 .6 2.5 .6-.9 .7-1.1 .6 2.3 .6-.3 .6-1.7 .6 0 .7 1.1 .6-1.6 .6 2.7 .6-1.1 .6 1.1 .7-2.2 .6 1.3 .6-1.3 .6-1.2 .6 4 .7-5.6 .6 1.6 .6 .1 .6 1.4 .6-2.5 .6 2.3 .7-2.8 .6 .8 .6-1.8 .6 3.2 .6-1 .7 .5 .6-.6 .6 3.1 .6-.9 .6 2.8 .7-.3 .6-.9 .6-.2 .6 1.4 .6 3.9 .7-6 .6 1.4 .6-.4 .6 .9 .6-2.6 .7-.5 .6 1.9 .6 .4 .6-2.1 .6 1.4 .7 1.3 .6 .8 .6-2.9 .6-1.1 .6 3.2 .7-3.9 .6 3.3 .6 .3 .6-1.8 .6 1.9 .7-.7 .6 1.6 .6 .3 .6-.6 .6-1 .7 5.6 .6-3.1 .6-2.8 .6 .8 .6 .2 .7 .4 .6 1.9 .6-4.4 .6 2.4 .6-1.2 .7 3.1 .6-3.7 .6 1.1 .6 .2 .6-.3 .7-.7 .6 .4 .6 1.2 .6 1.6 .6-2.5 .7 4.6 .6-4.3 .6-1.3 .6 1.3 .6-.7 .7 1 .6 .7 .6 .4 .6-.8 .6-.8 .7-.8 .6 7 .6-4.9 .6 0 .6-2 .7 1.4 .6 .7 .6-1.3 .6 2.3 .6-1.6 .7 .2 .6 .2 .6 1.1 .6-2.3 .6-.8 .7 3.4 .6-1.6 .6-.6 .6-1.8 .6 3 .7 .5 .6-1.1 .6-2.5 .6 2 .6-.5 .6-2.2 .7 4.2 .6-.3 .6-3.8 .6 .2 .6 2.9 .7-1.8 .6 1.2 .6 .3 .6 1.7 .6-4.5 .7 5.3 .6-.7 .6 .5 .6 2.2 .6-2.8 .7 2.5 .6-2 .6-1 .6 7 .6-6.3 .7 1.3 .6-.7 .6 1.9 .6-1.7 .6 2.4 .7-6.4 .6 6.8 .6 4.8 .6-6.8 .6 .9 .7-.2 .6-.3 .6 .6 .6 .9 .6-1.1 .7 3.9 .6 .8 .6-6.3 .6 2.9 .6-.7 .7-.5 .6 1.1 .6-2 .6 2.3 .6-1.6 .7 1.4 .6-.8 .6 1.4 .6-1.1 .6 4.8 .7-3.3 .6-.9 .6 .1 .6-1.4 .6 3.2 .7-2.1 .6-1 .6 2.8 .6-.7 .6 .4 .7-.1 .6-.7 .6 .1 .6 0 .6-.2 .7 1.7 .6 .1 .6 .2 .6 .2 .6-1.2 .7-.3 .6-2.1 .6 2 .6 5.2 .6-5.9 .7 2.2 .6-1 .6-.6 .6 .3 .6 .4 .7 .9 .6 .9 .6-1 .6 .5 .6-1.2 .7 .9 .6-.6 .6 2.2 .6-2.4 .6 1.8 .7 .7 .6-.1 .6 1.8 .6-4 .6 .4 .7 1.9 .6-1.1 .6 .2 .6 1.5 .6-.5 .6 1.1 .7-1.1 .6 1.8 .6-1.7 .6 .2 .6-.1 .7 .1 .6-1.7 .6 1.4 .6 2.2 .6-3.1 .7 0 .6 .3 .6 1.2 .6 .5 .6-.2 .7-.2 .6-.3 .6 .1 .6-.9 .6 1.1 .7-1.6 .6 .8 .6 1.4 .6-1.1 .6 3.4 .7-3.7 .6 .9 .6 .1 .6 2 .6-3.7 .7 2.5 .6 0 .6-1 .6 1.2 .6 .6 .7-1.2 .6 1.5 .6-1.5 .6 .6 .6-.8 .7 2.1 .6-2.1 .6 .9 .6-1.4 .6 2.3 .7-2.2 .6 1.1 .6-.1 .6 5.8 .6-5.7 .7-.3 .6-.3 .6 1.6 .6-.5 .6-4.8 .7 3.5 .6-1 .6 .2 .6-.2 .6-.6 .7 0 .6-2.3 .6-.1 .6-1.6 .6-.5 .7-4.9 .6-3.1 .6-6 .6-9.5 .6-5.8 .7-11.4 .6-11.7 .6-10 .6-2.4 .6-2.7 .7 3.7 .6 9.9 .6 11.1 .6 9.4 .6 5.4 .7 8.9 .6 8.4 .6 4.1 .6 3.3 .6 2.6 .7 1.5 .6-1 .6 3.8 .6-.2 .6 1.3 .7 .3 .6 .5 .6-.4 .6 .5 .6-.6 .7 .3 .6 1.1 .6-2.5 .6 2.9 .6-1.3 .6-1.6 .7 2.6 .6-1.8 .6-3.4 .6 4.3 .6 6.2 .7-7.2 .6 1.2 .6 .6 .6-1.7 .6 1.8 .7-1.7 .6 1.4 .6-1 .6 1.5 .6-.7 .7 .4 .6-.2 .6-.8 .6 .2 .6-.3 .7-1.1 .6 1.3 .6 1.5 .6-1.5 .6-.4 .7-.9 .6 0 .6 0 .6 1 .6-.8 .7 1.8 .6-2.5 .6 .7 .6 3.1 .6-2.5 .7-.4 .6 .6 .6-1.2 .6 1.7 .6 1.1 .7-3 .6-1.4 .6 1.9 .6 0 .6-.4 .7 .1 .6 .1 .6 .9 .6 0 .6-.5 .7-.2 .6 4.1 .6-3.3 .6-.8 .6-1 .7 .9 .6-.8 .6-.2 .6 .2 .6 1.1 .7 0 .6 5.7 .6-5.4 .6-1.1 .6 1.5 .7-2.3 .6-.1 .6 1.7 .6-1.2 .6 2.2 .7-.3 .6-.7 .6-.3 .6 .2 .6 .6 .7-2.6 .6 1.6 .6 0 .6-.4 .6 .5 .7 .4 .6 .3 .6-1 .6-.9 .6 2.2 .7 .7 .6-.8 .6 .8 .6-3.4 .6 1.5 .7-1 .6 0 .6 .8 .6 0 .6 5.7 .7-5.1 .6 .5 .6-.7 .6 .7 .6-1.9 .6 .5 .7 .7 .6 1.4 .6-2.3 .6-.3 .6 .7 .7 .8 .6-2 .6-1.3 .6 2.1 .6-3.6 .7 1.1 .6-3.7 .6-3.6 .6 .4 .6-1.4 .7 .7 .6 .2 .6-1.5 .6 2.7 .6 3.5 .7 1.6 .6 4.3 .6-4.4 .6 2.8 .6-.3 .7 1.8 .6 1.2 .6-2.3 .6 1.5 .6 .8 .7-.1 .6 .1 .6 0 .6 .9 .6-2.5 .7 .8 .6-.5 .6 1.2 .6 1.6 .6-2 .7-.9 .6 .4 .6 .4 .6 5.1 .6-3.6 .7-.4 .6-.1 .6-.1 .6 .7 .6-2.7 .7 1.3 .6 2.1 .6-.8 .6 .2 .6-1.4 .7-.7 .6 1.9 .6-1.5 .6 .8 .6-1.3 .7-.2 .6 1 .6-.4 .6 .7 .6 .4 .7 .7 .6-1.4 .6 .4 .6 .3 .6-.3 .7 .1 .6 .8 .6-.4 .6-1.6 .6 1.3 .7-1.5 .6 2.4 .6 .1 .6-1.3 .6-.6 .7 1.3 .6-1.2 .6-.2 .6-.2 .6 1.1 .7 0 .6 1.4 .6-1.5 .6-.2 .6-1.1 .7 2.5 .6-.4 .6 .2 .6-1.8 .6 3.1 .7-1.3 .6-2.9 .6 1.3 .6 .1 .6 .6 .6-.9 .7 .3 .6 .7 .6 .5 .6-1.5 .6 .7 .7-.8 .6 .4 .6 .8 .6-1.8 .6 1.7 .7-.9 .6 1 .6-.4 .6-.1 .6 .4 .7-.9 .6-4.1 .6 2.4 .6-1.9 .6 .7 .7 1.3 .6 .8 .6-1.5 .6 2.7 .6-2.8 .7 1.7 .6-2 .6 1.1 .6-1.9 .6 .3 .7 .5 .6 2 .6-8 .6-4.2 .6-2.5 .7-8.3 .6-9.3 .6-10.5 .6-15.4 .6 .2 .7-1.3 .6-1.6 .6 6.6 .6 5.9 .6 11.4 .7 7.2 .6 9.9 .6 4.6 .6 4.8 .6 2.9 .7 3.7 .6 .6 .6 1.8 .6 0 .6-.2 .7-1.9 .6 3.1 .6-.3 .6 .8 .6-.8 .7 .8 .6-.4 .6 .7 .6-1.8 .6 1.1 .7 6.7 .6-5.6 .6 .3 .6 5.9 .6-5 .7-.3 .6 .3 .6-.8 .6 1.8 .6-2.3 .7 0 .6 5.4 .6-4.3 .6-.3 .6 .4 .7-1.4 .6 .6 .6-1.4 .6 2.2 .6-1.7 .7 1.8 .6-.3 .6 .8 .6-1.5 .6 .6 .7-.7 .6-.8 .6 1.4 .6-.4 .6-.5 .6-1.9 .7 3.2 .6-.8 .6-.2 .6-.2 .6-.1 .7 1.3 .6-4.6 .6 2.9 .6 1.5 .6-.8 .7 .8 .6-.7 .6-1.5 .6 1.4 .6 4.8 .7-5.1 .6 .1 .6-.9 .6 2.2 .6-.5 .7-.9 .6 1.3 .6-2.6 .6 2.8 .6-5.1 .7 4.4 .6-.9 .6-1.6 .6-3.5 .6 3 .7 .1 .6 2.3 .6-2.5 .6 1.8 .6-1.6 .7-.5 .6-.2 .6-1.5 .6 .8 .6-3.2 .7 .4 .6-1.4 .6-.5 .6-1.2 .6-.3 .7-3.8 .6 1.6 .6-4.4 .6-2.9 .6-4.9 .7-2.3 .6-10.5 .6-29.5 .6-29.2 .6-39.5 .7-55.6 .6-61.4 .6-71.3 .6-75 .6-58.6 .7-38.2 .6 7.3 .6 25.5 .6 50.9 .6 61.4 .7 74.5 .6 64 .6 58.1 .6 45.7 .6 32.8 .7 22.5 .6 11.9 .6 18.8 .6 .5 .6 1.5 .7 9.2 .6-3.9 .6 4.6 .6 3.3 .6-4.4 .7 6.3 .6-1.1 .6-.4 .6 3.1 .6-4 .7 3.9 .6-.5 .6 .9 .6 1.2 .6-.4 .7-.2 .6 .9 .6-1.1 .6 1.5 .6 1.6 .7-.1 .6-.4 .6 .2 .6-.6 .6 .4 .6-1.1 .7-1.7 .6 2.1 .6 2.2 .6-.2 .6-1 .7 .7 .6-.4 .6 .4 .6 .8 .6-2 .7 .6 .6 2.4 .6-.8 .6-.5 .6-.5 .7 .7 .6 1.2 .6-1.9 .6 .9 .6-1.2 .7 .9 .6-.6 .6 .2 .6 0 .6 1.2 .7-1.3 .6 .7 .6-2.5 .6 3.1 .6 0 .7-.7 .6-.1 .6 1.5 .6-1.5 .6 .7 .7 .9 .6-1.7 .6 1.4 .6 .4 .6-1.6 .7-.1 .6 1.3 .6-1.4 .6 0 .6 1.3 .7-2.1 .6 1.8 .6-.3 .6-.4 .6 .1 .7 1.1 .6-.9 .6 1.8 .6-2.4 .6-.3 .7-.4 .6 4.2 .6-3 .6 .2 .6 2.9 .7-2 .6-.6 .6-1.3 .6 2 .6-.9 .7 .2 .6-.4 .6 .7 .6-1.1 .6-.1 .7 2 .6-2.1 .6 1.6 .6-.4 .6-1.2 .7 .8 .6-.4 .6-.2 .6-2.6 .6 3.8 .7 .3 .6-1.4 .6-.1 .6 .4 .6 .4 .7-.9 .6 .8 .6 1.1 .6-1.4 .6-.2 .7-.2 .6 1.4 .6-.1 .6-1 .6 .7 .7-.4 .6-.8 .6 .4 .6-1.2 .6 1.3 .6-1.2 .7 .5 .6-1.2 .6 2.2 .6 .1 .6-1.2 .7 1.5 .6-3.7 .6 3.1 .6-.1 .6 1.5 .7-1.4 .6 .5 .6-.3 .6-.2 .6 .4 .7-1.1 .6 .5 .6 .5 .6-.2 .6-.8 .7 .2 .6-.5 .6 1.2 .6-.2 .6-1.7 .7 1.8 .6-1.5 .6 3.3 .6-1.6 .6 .8 .7-1.8 .6 1.1 .6 0 .6 .8 .6-2.6 .7 .9 .6 0 .6-.4 .6 0 .6 0 .7-.5 .6 .5 .6 1.9 .6-3.1 .6 0 .7 2.5 .6-4.1 .6 2.3 .6 1 .6-4.6 .7 .4 .6 1.2 .6-2.2 .6-2.3 .6 0 .7-4.7 .6-6.2 .6-5.7 .6-7.5 .6-13.6 .7-14.7 .6-22.5 .6-12.9 .6-28.5 .6-15.1 .7-15.2 .6 7 .6 12.3 .6 13.1 .6 14.2 .7 20.1 .6 23.5 .6 15.1 .6 12.3 .6 11.7 .7 8.1 .6 4.7 .6 2.2 .6 7.6 .6-2.4 .7 .1 .6-.3 .6 .9 .6 1.4 .6-1.5 .7 2.9 .6-.3 .6 1.4 .6-1.6 .6 1 .7 1.6 .6-.6 .6-2.1 .6 1 .6 .7 .7-.5 .6 2.2 .6-.6 .6 .5 .6-.3 .6-.3 .7-.8 .6-.3 .6 .1 .6-1.4 .6 2.7 .7-.4 .6-.4 .6 1.2 .6-.4 .6-.6 .7 1.1 .6-1.1 .6-.6 .6 2 .6 1 .7 1.9 .6-3 .6-1 .6 .6 .6-.7 .7-.7 .6 .3 .6 1 .6 .7 .6 1.1 .7-.3 .6-1.1 .6-.8 .6 .7 .6-.1 .7 .8 .6 0 .6 .1 .6-2 .6 2.2 .7-2.3 .6 1.3 .6-1.3 .6 .2 .6-.5 .7-.5 .6 1.6 .6 .1 .6-.6 .6 .1 .7-1.5 .6 .3 .6-.6 .6-1.1 .6-.3 .7-3 .6 .8 .6 .5 .6-8.7 .6-2 .7 3.2 .6-11.2 .6 .3 .6 2.2 .6 .5 .7-.9 .6 5 .6 .5 .6 .2 .6 7.4 .7 1.7 .6 3.2 .6 1 .6 1.3 .6-.3 .7 2.1 .6-.6 .6 .2 .6-.2 .6 2.4 .7-.1 .6-.7 .6-.4 .6-.2 .6 .1 .7-1.5 .6 1.2 .6 .2 .6 .9 .6-1 .7 .2 .6 2.6 .6-1.9 .6-.5 .6-.7 .7 1.9 .6 4.7 .6-5.9 .6 .1 .6 .9 .7 .2 .6-2.6 .6 2.7 .6 .6 .6-.6 .6-.7 .7 .9 .6-.2 .6-.5 .6 .6 .6-.4 .7 .1 .6 .9 .6-.9 .6 1 .6-1.7 .7 1.5 .6-.5 .6 1.3 .6-1.1 .6 .7 .7-2.2 .6 1.3 .6-.5 .6 1.8 .6-.3 .7-.9 .6-1.4 .6 .4 .6 1.3 .6-.4 .7-.1 .6 .3 .6-.7 .6 1.2 .6-.8 .7-.6 .6 .7 .6 .1 .6 .4 .6-.3 .7-.4 .6 .7 .6 1.1 .6-3.3 .6 2.2 .7-.5 .6 .3 .6-1.1 .6 2.1 .6-.1 .7-1.3 .6 1.4 .6-1.1 .6 .3 .6 1.5 .7-2 .6-.5 .6 .9 .6 1.2 .6-1.6 .7 1.4 .6-.7 .6-.4 .6 .9 .6 .8 .7-1.2 .6-.1 .6 .7 .6-.1 .6-1.1 .7 .6 .6 .3 .6 .1 .6-.6 .6 .1 .7 .2 .6 1 .6-.8 .6 .2 .6 3.3 .7-4.6 .6 .1 .6 .3 .6 .4 .6 .3 .7-.5 .6 .7 .6-.1 .6 .4 .6-.6 .7 0 .6-1.5 .6 1 .6 .7 .6-.8 .7 .9 .6-1.1 .6 .1 .6-1.6 .6 3.1 .6-.8 .7 0 .6-.3 .6-.4 .6 1.3 .6-.2 .7-.8 .6-.5 .6 1.5 .6 .3 .6-2.1 .7 .2 .6-.2 .6 1.5 .6-.7 .6-.4 .7-.3 .6 .3 .6-.2 .6-1 .6 1 .7-.2 .6-.3 .6-.3 .6-1 .6-.2 .7-.6 .6-2.7 .6 3.1 .6-5.8 .6-5.5 .7-3.5 .6-13.3 .6-3.9 .6-9.9 .6-11 .7-9.4 .6-1.6 .6-1.3 .6 2.6 .6 5.5 .7 6.8 .6 5.1 .6 11.3 .6 9.4 .6 7.1 .7 5.6 .6 3.8 .6 3.7 .6 .6 .6 3.7 .7-.4 .6 .8 .6 1.8 .6-1 .6 .4 .7-1.6 .6 .8 .6 1.4 .6 1 .6 .3 .7 .3 .6-.6 .6 .2 .6 1.2 .6-.2 .7-.1 .6-.2 .6 0 .6 .3 .6-.9 .7-.2 .6 .7 .6 1.8 .6-1.5 .6-.5 .7 .5 .6-.2 .6 .1 .6 1.2 .6 .8 .7-2.3 .6 .9 .6-.7 .6 .6 .6-.1 .7-1.1 .6 1.9 .6-.9 .6 .9 .6-.9 .7-.3 .6-.1 .6 .4 .6 3 .6-3.1 .7-.5 .6-.1 .6-.8 .6 1.1 .6 1.2 .6-.4 .7-.5 .6-.8 .6 1.5 .6-1.6 .6 0 .7 .9 .6 .5 .6-1.4 .6-1.2 .6-.8 .7-1.7 .6-.4 .6-3.2 .6 .5 .6-3.2 .7-1 .6-2.3 .6 1.3 .6 1.8 .6 1.4 .7 .5 .6 2.1 .6 2.7 .6 2 .6-1.1 .7 3 .6-1.8 .6 1.9 .6-1.3 .6 1.9 .7-1 .6 .8 .6-.6 .6 .9 .6 2.3 .7-1.6 .6 .7 .6-1.8 .6 3.3 .6-2.6 .7-.3 .6 .3 .6 .5 .6-1.8 .6 5.1 .7-3.5 .6 1 .6-.6 .6-.5 .6 .1 .7 .2 .6-.3 .6 .8 .6-.9 .6 1.2 .7-.6 .6-.1 .6-1.2 .6 2.9 .6-2.4 .7 .9 .6-.6 .6-.9 .6-.4 .6 2 .7-.8 .6-.5 .6-.2 .6 .2 .6-.6 .7 1.5 .6-2.3 .6 1.9 .6-1 .6-.5 .7-3.3 .6 .4 .6 2.1 .6-.5 .6 .8 .7-1.1 .6-1 .6 1.1 .6-.3 .6-1.6 .7-4 .6-2.8 .6-2.6 .6-6.3 .6-7.5 .7-9.2 .6-4.5 .6-9 .6-4.3 .6-.8 .7 3.1 .6 9.3 .6-1.2 .6 9.3 .6-1.2 .6 9.5 .7 5.9 .6 6.7 .6 2.8 .6 1.5 .6 2.3 .7 2.9 .6 2 .6-.4 .6 .8 .6-.5 .7 1.9 .6-.6 .6-.2 .6 .7 .6-1 .7 1.7 .6 .2 .6-.6 .6-.8 .6 .9 .7 .2 .6-1 .6 .5 .6 .5 .6-.5 .7 .2 .6 2.3 .6-2.9 .6 .5 .6-.6 .7-.5 .6-1 .6-.4 .6 .7 .6-.6 .7-.3 .6-.4 .6 .9 .6-1 .6 1.8 .7-.2 .6 1.1 .6 .8 .6-.6 .6-.1 .7 .3 .6 .2 .6 .4V623.2"/>
<path stroke-width="2.4" d="M24.2 623.2H953.9"/>
<path fill="#00B8FF" d="M24.2 661.8V620.5l.6-4.1 .6-.3 .7 1.6 .6-2 .6-1 .6 1.7 .6 .2 .7-.7 .6 1.3 .6-1 .6 .8 .6 1.7 .7 .5 .6-3.1 .6 .7 .6 1.6 .6-1.2 .7-2.2 .6 3.9 .6-1.6 .6-3 .6-1.4 .7 .9 .6-3.1 .6-6.1 .6-8.3 .6-6.6 .7-7 .6-19.7 .6-20.1 .6-3.5 .6-5.6 .7-5 .6 10.1 .6 12.6 .6 14.7 .6 13.6 .7 11 .6 7.8 .6 11 .6 3.2 .6 3.7 .7-.6 .6 4.2 .6 2.8 .6-1.1 .6 1.6 .7 .7 .6 .2 .6 1.5 .6 1.1 .6-4.4 .6 2.8 .7 1.3 .6-1.6 .6-.7 .6 4 .6-1.4 .7-.7 .6 1.5 .6-1.3 .6 2.2 .6-.6 .7-.5 .6 2.4 .6-5.9 .6 4.6 .6-.2 .7 2.2 .6-4.8 .6 3.1 .6 0 .6-.6 .7-.2 .6 .4 .6 1.3 .6 1.3 .6-1.6 .7 .8 .6-3.2 .6 2.5 .6-.3 .6-1.1 .7 1.7 .6 1.8 .6-2.6 .6-.3 .6 2.9 .7-2.5 .6 .5 .6 .9 .6-.8 .6-.2 .7-.2 .6-.6 .6 1.4 .6 0 .6-6.4 .7 7.7 .6-.9 .6 .2 .6-1.3 .6-.3 .7 2.8 .6-2.9 .6 2.8 .6-4.3 .6 3.8 .7-2 .6 1.6 .6-1.1 .6 1.7 .6-1 .7 .2 .6 0 .6-.8 .6 1.4 .6-.1 .7 1.2 .6-1.3 .6 .4 .6-1.5 .6 .2 .7 1.6 .6-1.3 .6-1 .6 1.7 .6 1.1 .7-4 .6 2.1 .6-.2 .6-2 .6 3.7 .7-1.2 .6 2.4 .6-2.7 .6 .1 .6 1.3 .7 .1 .6-.8 .6 0 .6-2.1 .6 1.9 .7-.3 .6-.2 .6 1.3 .6-1.7 .6 .4 .7-2.3 .6 2.1 .6-1.9 .6-2 .6 2.7 .6-.4 .7-2.6 .6 3.4 .6-.8 .6 .3 .6 2.1 .7 1.2 .6-3.2 .6 2.7 .6-1 .6 1.6 .7-1.1 .6 2 .6 .1 .6-.3 .6-.3 .7 0 .6-.2 .6-.8 .6 6.5 .6-11.1 .7 5.9 .6 4.3 .6-6.3 .6-.4 .6 4.1 .7-4 .6-.9 .6 1.4 .6 1.6 .6-2.8 .7 3.9 .6-1.9 .6 .3 .6 1.4 .6 .1 .7-1.5 .6-.1 .6 2.9 .6-1.3 .6-.3 .7-1 .6 .2 .6-.2 .6 1.1 .6 1 .7-1 .6-.2 .6 1.2 .6-1 .6 1.4 .7-1.1 .6 1 .6-2.8 .6 1 .6 1.1 .7 1.7 .6 0 .6-2 .6 .9 .6-.4 .7 2.1 .6-.1 .6-1.6 .6 .4 .6 1.3 .7-.5 .6-1.6 .6 1.3 .6-.9 .6-1.1 .7 1.5 .6 5.8 .6-4.7 .6-1.8 .6 2.8 .7-.3 .6-1 .6 1.5 .6-2.4 .6 1.7 .7-1.1 .6 .9 .6 .1 .6-.2 .6 2 .7-.8 .6-.5 .6-2.6 .6 1.4 .6 .2 .7 1.8 .6-1.8 .6-.3 .6 .6 .6-1.8 .6 4 .7-.1 .6-.7 .6 .8 .6-.9 .6-.4 .7 .7 .6 5 .6-5.2 .6-.2 .6 1.5 .7 .1 .6-1.7 .6 1.6 .6 .6 .6-1 .7 .8 .6-.4 .6 .3 .6-.5 .6-.2 .7 1.8 .6 .5 .6-2.6 .6 2.3 .6 .9 .7 .4 .6-1.6 .6 .7 .6 1.2 .6-.7 .7 .2 .6-1.8 .6 .7 .6 .3 .6 1.3 .7-1 .6-.7 .6 .6 .6-.8 .6 1 .7-.5 .6 .3 .6 1 .6-1.6 .6 .9 .7-.3 .6 1.7 .6 .1 .6-.7 .6 .6 .7-1.3 .6 .2 .6-.7 .6 .6 .6 1.5 .7-1.8 .6 1.4 .6 .1 .6-.7 .6 .1 .7-1 .6-1.5 .6 2.1 .6-.9 .6 1.5 .7-.5 .6 .8 .6-.1 .6-1.6 .6 .8 .7 0 .6 1.1 .6-2.2 .6 1.7 .6 .4 .7-.5 .6-.6 .6-.1 .6-.6 .6 2.2 .7-.5 .6-1.7 .6-.7 .6 2.6 .6-.4 .7 3.3 .6-2.7 .6 .1 .6-.7 .6 1 .7-1.9 .6 .9 .6 .2 .6-1.1 .6 1.1 .7 .9 .6 3.6 .6-6.6 .6 1.8 .6-.4 .6 .7 .7 0 .6-.6 .6 2.7 .6-1.2 .6-.5 .7-.3 .6-1.5 .6-.9 .6 1.6 .6 .2 .7-.2 .6-.7 .6 2.2 .6-.5 .6-.5 .7-.1 .6 1.9 .6-2 .6 1.8 .6 2.2 .7-4.3 .6 2.7 .6-2.3 .6 .2 .6 .8 .7-1.4 .6-.9 .6 1.3 .6 1.4 .6 .3 .7-.2 .6-.1 .6-1.8 .6 .7 .6 .3 .7-.8 .6 .7 .6 0 .6 .7 .6-.2 .7-.5 .6 1 .6-2.5 .6 1.3 .6-2.2 .7 1.4 .6 1.7 .6-1.9 .6 .8 .6-1.7 .7 2 .6-2.2 .6 2.2 .6 .1 .6-1.5 .7 .9 .6-1.6 .6-2 .6 .4 .6 4.8 .7-5.8 .6-1 .6-1.9 .6-2.1 .6-6.7 .7-2.8 .6-8 .6-7.6 .6-9.6 .6-11 .7-10.4 .6-3.2 .6-3.4 .6 4.3 .6 3.1 .7 11.3 .6 9.8 .6 7.6 .6 9.5 .6 6.5 .7 6.1 .6 3.4 .6 3.3 .6 3.2 .6 .1 .7 1.6 .6 .6 .6 3.8 .6-2.5 .6 .8 .7-1.7 .6-.3 .6 2.2 .6-3.8 .6 3.5 .7 1.1 .6 .3 .6-.4 .6 .3 .6 0 .6-.1 .7 .9 .6-1.6 .6 1.7 .6 0 .6-1.7 .7 .2 .6-.5 .6 1.1 .6 .7 .6-1.5 .7 1 .6 .1 .6 .6 .6-4 .6 5.3 .7-2.4 .6 2.1 .6-2.4 .6 2 .6-1.8 .7-1.5 .6 2.3 .6 .7 .6-2.6 .6 2 .7 .6 .6-2 .6 3.4 .6 1.1 .6-2.3 .7-.6 .6-2.1 .6 .9 .6-.2 .6 .9 .7 .3 .6 .9 .6-1.7 .6 1 .6-1.1 .7-.3 .6 .8 .6 1.8 .6-1 .6-2 .7 .9 .6-.9 .6 3 .6-1.7 .6 0 .7 1.2 .6-.8 .6-1.3 .6 .3 .6-2.4 .7 2.6 .6-.7 .6 1.9 .6-1.1 .6-.7 .7 4.4 .6-4.6 .6 1.2 .6-1 .6 .2 .7 .5 .6 .5 .6 .3 .6-.7 .6 0 .7-1 .6 1.2 .6-.4 .6-1.1 .6 1.2 .7 2.9 .6-4 .6 1.2 .6-.2 .6-.3 .7 .7 .6 .8 .6 .3 .6-1 .6-1.2 .7 .1 .6-.5 .6 .6 .6 1.3 .6 .6 .7-.8 .6-.2 .6 2.7 .6-3.8 .6 1.4 .7-1.1 .6-.3 .6 2.1 .6-1.2 .6 2.6 .6-3.9 .7 .5 .6 .8 .6-.6 .6-1.1 .6-1.7 .7-.3 .6-.7 .6-2 .6-2.7 .6 5.1 .7-8 .6-3.2 .6-2.6 .6 0 .6 3.1 .7 .8 .6 3 .6 2 .6 1.6 .6 2.4 .7 1.6 .6 1.6 .6 3.5 .6-.5 .6-2.5 .7-.1 .6 1.4 .6 .1 .6-1.6 .6 .8 .7-.3 .6 1.3 .6 .2 .6 .4 .6-1.8 .7 1.8 .6 .6 .6-.8 .6-1.7 .6 1.1 .7-.2 .6 .1 .6 .2 .6 .1 .6 1 .7-2.5 .6 1.5 .6-1.1 .6 2.3 .6-1.7 .7 1.4 .6 .1 .6-1.3 .6-2.1 .6 1.2 .7 .1 .6 1.3 .6-.9 .6 1.2 .6-.1 .7-.6 .6 .3 .6-.8 .6 2.2 .6-2.4 .7 1.4 .6-1.7 .6 .3 .6 1.9 .6-.9 .7-.6 .6 1.2 .6-.1 .6-.3 .6-.9 .7-.1 .6-.7 .6 .7 .6-.5 .6 .4 .7 1.4 .6 .1 .6-.9 .6-.5 .6 .3 .7 .7 .6 .4 .6-1.8 .6 1.2 .6-3.3 .7 4.1 .6-.7 .6 .3 .6-5.4 .6 3.8 .7 1.4 .6 1.2 .6-2.6 .6 .8 .6 1.1 .6 .3 .7-1.6 .6 .4 .6-.3 .6-.2 .6 .6 .7-.1 .6 3.2 .6-1.3 .6-2 .6-.8 .7 2.1 .6-2.8 .6 .6 .6 1 .6-.6 .7-1.3 .6 .5 .6 1.8 .6-.7 .6-1.2 .7-1.6 .6 .7 .6 4 .6-4.4 .6 .1 .7-.2 .6-1.3 .6 1.4 .6-4.4 .6-1.7 .7-2.1 .6-4 .6-5.6 .6-9.8 .6-9.2 .7-9.9 .6-11.2 .6-2.4 .6 .9 .6 3.6 .7 3.8 .6 10.6 .6 10.2 .6 6.8 .6 6.8 .7 4.1 .6 5.5 .6 3.5 .6 1.9 .6 1.5 .7-.3 .6-2.1 .6 3.8 .6 .3 .6-1.1 .7 1.4 .6-.2 .6 1.6 .6-.3 .6-.7 .7 1.5 .6-1.3 .6-.7 .6 1.3 .6 .9 .7-1.1 .6-.8 .6 1.1 .6-.8 .6 .8 .7 1 .6-.2 .6-.5 .6-2.2 .6 1.5 .7 .7 .6-.5 .6 .1 .6 .6 .6-.3 .7 .1 .6-.8 .6-.7 .6 .2 .6 1.3 .7-.7 .6 1.1 .6 .3 .6-1 .6-.5 .7 .5 .6-.7 .6 0 .6 0 .6 .7 .6 1 .7-2.7 .6 6.2 .6-5.4 .6 .2 .6-2.1 .7 .9 .6-.7 .6 2.1 .6 .3 .6 .4 .7 .2 .6-1.6 .6 .8 .6-.1 .6-.9 .7 4.7 .6-5 .6 1 .6-.2 .6-1.3 .7 1.2 .6-1.2 .6-.1 .6 .3 .6 1.3 .7-.5 .6-.4 .6 0 .6-2.2 .6 1.3 .7 .1 .6-1 .6-.8 .6 1.1 .6-2.6 .7-.7 .6 .7 .6-2.1 .6 1.6 .6-1.9 .7-1.4 .6-1.5 .6-2.6 .6-.2 .6-1.6 .7-4.7 .6-4.6 .6-7.7 .6-10.1 .6-18.5 .7-25 .6-40.3 .6-47.8 .6-63.2 .6-76.6 .7-68.5 .6-64.5 .6-40.2 .6-12.7 .6 26.5 .7 49.3 .6 58 .6 75.6 .6 66.6 .6 55 .7 44 .6 35.6 .6 30 .6 15.7 .6 12 .7 9.4 .6 1.2 .6 4.7 .6 .4 .6 3.1 .7 2.3 .6 1.4 .6 .5 .6 .2 .6 1.7 .7-2.5 .6 3.1 .6 1.8 .6-.7 .6-.6 .7 1 .6 1 .6 .6 .6 .4 .6-2 .7 2.2 .6-.5 .6 .9 .6-1.8 .6 1.2 .7 .9 .6-.2 .6-1.2 .6 2.8 .6-1.6 .6-2 .7 1.6 .6 1.7 .6-.8 .6 .4 .6-2.5 .7 3 .6-.3 .6 .1 .6 1 .6 1.7 .7-2.6 .6-.6 .6 .9 .6-.7 .6-.2 .7 .1 .6 2 .6-2.6 .6 .5 .6 .1 .7 .7 .6 .1 .6 .4 .6-.7 .6-.4 .7 1.3 .6-1.2 .6 1.1 .6-.8 .6 .6 .7-.8 .6-.9 .6 1.5 .6 4.2 .6-3.7 .7-2.7 .6 2.8 .6-1.2 .6 .6 .6-.5 .7 1.2 .6 .4 .6-.2 .6-.9 .6 1 .7-1.2 .6 2.3 .6-1.2 .6-.4 .6 1.4 .7-1 .6 .7 .6-1.1 .6 .1 .6-.8 .7 1.3 .6 .6 .6-.9 .6-.5 .6 0 .7 0 .6-.9 .6 1.3 .6-.1 .6 .5 .7-.2 .6-1.4 .6 5.1 .6-2.1 .6-3.1 .7 2.6 .6-1.3 .6-1.1 .6 .7 .6-.4 .7-.3 .6 .5 .6 1.3 .6-1.4 .6 .9 .7 1.4 .6 .5 .6-2.9 .6 .3 .6 .1 .7-1.4 .6 1.2 .6-.6 .6 .5 .6-1.1 .7 1.7 .6-1.3 .6-.6 .6 1.8 .6-1.2 .7 2 .6-1.4 .6-.3 .6 1.3 .6 .8 .6-1.6 .7 .4 .6-2.6 .6 2 .6-.4 .6 3.5 .7-3.2 .6 1.7 .6-1.9 .6 .3 .6-1.6 .7 .6 .6 1.1 .6 .5 .6-.7 .6 1.7 .7-2.1 .6 .7 .6-1.4 .6 .9 .6 .2 .7 .1 .6 1.2 .6-1 .6-.3 .6-.6 .7 .4 .6-.3 .6 0 .6 1 .6-.8 .7 .4 .6 4.5 .6-3.6 .6-2 .6-.6 .7-.1 .6 1.8 .6-2.2 .6-.2 .6 1.8 .7-1.3 .6-1.3 .6 1.2 .6-1.3 .6 1.2 .7-.7 .6-1.6 .6 .3 .6-1.1 .6-1 .7-.4 .6-4.6 .6-1.5 .6-4.6 .6-6.9 .7-11 .6-12.5 .6-21.2 .6-19 .6-33.2 .7-18 .6-3.7 .6-4.5 .6 9.5 .6 7.3 .7 10.7 .6 21.9 .6 17.6 .6 14.6 .6 20 .7 15 .6 14.2 .6-.8 .6 1.7 .6 5.3 .7 3.8 .6 .3 .6 2.3 .6 1.6 .6-2.3 .7 2.1 .6-.6 .6 1 .6 2 .6-1.5 .7-.4 .6 .1 .6-.1 .6 1.2 .6 .6 .7 0 .6 1.1 .6-1.5 .6 3 .6-2.4 .7 1 .6 1.6 .6-3.4 .6 .3 .6 1.6 .6 0 .7-.1 .6 .6 .6-.1 .6-.5 .6 1.9 .7-.8 .6-1.5 .6 .1 .6 1 .6-.9 .7 .2 .6-.1 .6 1.3 .6-1.1 .6 1.5 .7-1.4 .6 .6 .6-.2 .6-.2 .6-1 .7-.3 .6 1 .6 .9 .6-2.1 .6 2.3 .7-.7 .6-.2 .6 .4 .6-1.7 .6 .7 .7-.6 .6 1.1 .6-1 .6 .8 .6 0 .7-.4 .6-.2 .6 3.3 .6-2.9 .6 .9 .7-1.1 .6 1.8 .6-2.3 .6 .1 .6-2 .7 2.3 .6-5.4 .6 .6 .6-.9 .6-4.6 .7-3 .6-3 .6-4.8 .6 1.9 .6-1.9 .7 .9 .6 2.5 .6 1 .6 1.5 .6 5.1 .7 5.6 .6-2.5 .6 2.2 .6 3.5 .6-.6 .7 1.4 .6-.8 .6 1.5 .6-1.4 .6 2.9 .7-1.3 .6 1.3 .6-2 .6 .3 .6 2.1 .7-1.3 .6 .7 .6 1.4 .6-.4 .6-.9 .7-.2 .6 .7 .6-.4 .6 0 .6 .1 .7 1.2 .6-1 .6-.3 .6 1.6 .6-2.3 .7 .1 .6 1.1 .6-1.5 .6 2.3 .6 .2 .7-.3 .6 .1 .6 .1 .6-.6 .6 .1 .6-.3 .7-1 .6 1.1 .6 .5 .6-.5 .6-.8 .7 1.1 .6-1.2 .6 .9 .6 .3 .6-.5 .7-1.1 .6 1.7 .6-1.2 .6 .6 .6 .3 .7 .1 .6 3.2 .6-3.6 .6 .2 .6-.2 .7 1.1 .6-.1 .6 .2 .6-.5 .6-.1 .7 .2 .6-.7 .6 1.1 .6-.5 .6 3.2 .7-4.7 .6 1.3 .6-.9 .6-.1 .6 1.8 .7-1 .6 1 .6-.5 .6-3.8 .6 4.5 .7 2.1 .6-3 .6 .1 .6-.6 .6 1.1 .7 .7 .6-1.4 .6 .6 .6-.4 .6 .7 .7-.1 .6 .1 .6 .1 .6-.3 .6 0 .7-.7 .6-2.4 .6 2.9 .6 .8 .6-1.7 .7 1.4 .6-.2 .6-.5 .6-.3 .6 0 .7-.1 .6 .3 .6-1 .6-3 .6 4.3 .7-.3 .6 .9 .6-1.5 .6 .6 .6-1.6 .7 2 .6-1.7 .6 1.8 .6 .6 .6-.6 .7-.9 .6-.6 .6 1.5 .6-1.5 .6 1.2 .7 0 .6-.2 .6-1.5 .6 1.1 .6-.1 .7 1.3 .6-1.3 .6-.1 .6-1 .6 1.9 .6-.2 .7 .1 .6-.2 .6-1.1 .6 1.1 .6-1.6 .7 .9 .6 .6 .6-.2 .6 .5 .6-.1 .7-2.1 .6 .1 .6 1.3 .6 1.6 .6-3.9 .7 1.6 .6-1 .6 1.7 .6-2 .6-.4 .7-.4 .6-1.2 .6 .4 .6-3.1 .6-2.7 .7-2.2 .6-7.2 .6-5.6 .6-6.6 .6-11.3 .7-13.7 .6-9.5 .6-2.5 .6 2.3 .6 1.3 .7 10.6 .6 1.3 .6 10.1 .6 5.8 .6 9.1 .7 7 .6 5.3 .6 3.7 .6 3.7 .6 2.9 .7 .6 .6 .8 .6-.2 .6 2.5 .6-.5 .7 .9 .6-.6 .6 .9 .6 2.1 .6-2.9 .7 1.4 .6 3.2 .6-2.3 .6-.3 .6 .3 .7-.8 .6-.1 .6 .2 .6-.3 .6 1 .7-1 .6 .5 .6-.3 .6-.1 .6 .8 .7-1.2 .6 .4 .6 .9 .6-1.6 .6 .1 .7 2.4 .6 .6 .6-1.2 .6-.8 .6-.4 .7 .3 .6 .5 .6-.7 .6 .2 .6 .9 .7-.5 .6-.7 .6 1.3 .6 0 .6 .2 .7-1.8 .6 .6 .6-.1 .6 .9 .6-.3 .7-1 .6 1.1 .6-1.2 .6 .9 .6-.1 .6-.6 .7-.4 .6-1 .6 1.2 .6-2.2 .6 1.1 .7-1.1 .6-2.5 .6-2.4 .6-2.8 .6 .5 .7-5.8 .6-1.6 .6 4.7 .6-1.1 .6 .7 .7 2.1 .6 2 .6 .6 .6 1.4 .6 3.4 .7 .3 .6 .6 .6 3.5 .6-1.8 .6-.6 .7 2.6 .6-1.8 .6 1.4 .6-.5 .6 .6 .7 .9 .6 .5 .6-3.1 .6 2.9 .6-.8 .7-1.2 .6 .9 .6 .1 .6 1.7 .6-1.1 .7-.7 .6 1.7 .6-1.7 .6-.3 .6 1.2 .7-.1 .6-.8 .6-.3 .6 1.5 .6-1.7 .7 .1 .6 .7 .6 .8 .6 .8 .6-2.2 .7-.8 .6 1.7 .6-1.7 .6 1.5 .6 2 .7-2.3 .6-.2 .6-1.1 .6 1.5 .6-1.2 .7 .8 .6-.3 .6 .5 .6-.9 .6 1.6 .7-1.5 .6-1.1 .6 0 .6 1.6 .6 3.3 .7-4.8 .6-5.7 .6 4.9 .6-1.1 .6-.8 .7-2 .6-1.1 .6-4.5 .6-5 .6-7 .7-5.3 .6-11 .6-10 .6-4.3 .6-2.2 .7 6.5 .6-2.8 .6 3.3 .6 6 .6 6.9 .7 6.1 .6 3.8 .6 10 .6 4.2 .6 2 .6 3.4 .7 3.8 .6-.8 .6 .7 .6 1.6 .6-.6 .7 .4 .6 5.7 .6-5.5 .6-1.1 .6 .5 .7 2.3 .6 .3 .6-1 .6-.1 .6 1.3 .7-.4 .6 2.4 .6 .2 .6-4 .6 .8 .7-.9 .6 1.1 .6-.2 .6 .1 .6 .3 .7-1.7 .6-2.7 .6 1.6 .6-1 .6-.2 .7-.2 .6 .9 .6 0 .6-.7 .6 1.5 .7 .3 .6 2.4 .6-.6 .6-1.4 .6 1.8 .7 .4 .6-3.5 .6 3.8 .6 2.7 .6-3.4 .7 .4 .6 1.1 .6-2.6V661.8"/>
<path stroke-width="2.4" d="M24.2 661.8H953.9"/>
<path fill="#0094FF" d="M24.2 700.4V659.1l.6-1.4 .6-.4 .7 2.1 .6 .8 .6-2.7 .6 2.1 .6-1.8 .7-1.2 .6 .8 .6 2.9 .6-3.7 .6 .1 .7 2.1 .6-.3 .6-2.6 .6 1.2 .6-.4 .7-1.3 .6 .2 .6-3.8 .6 .9 .6-3.8 .7 1.7 .6-3 .6-7.7 .6-3.7 .6-13.6 .7-9.8 .6-11.4 .6-28.5 .6-.5 .6-3.4 .7 5.6 .6 10 .6 15.3 .6 10.4 .6 12.9 .7 12.9 .6 7.7 .6 5.2 .6 3.1 .6 3.6 .7 2.7 .6 1 .6 .3 .6 1.3 .6 .9 .7-1.5 .6 1.5 .6-.1 .6 2.5 .6-1.8 .6 1.3 .7 4 .6-2.6 .6 .1 .6 0 .6-.5 .7 .5 .6-2.4 .6 2 .6 .5 .6 .5 .7 1 .6 .2 .6-1.2 .6 2.3 .6-3.5 .7 .2 .6 3.7 .6-3.1 .6 .3 .6 .1 .7 .7 .6-1 .6 2.9 .6-.3 .6-1.1 .7 .8 .6 1.8 .6-2.5 .6-.2 .6 1.4 .7-.6 .6-5.1 .6 8 .6-1.7 .6 .4 .7-.8 .6 1.3 .6 .1 .6-1.7 .6-1.8 .7 3.6 .6-3.2 .6 .7 .6 6.2 .6-6.5 .7 2 .6-1.7 .6 3 .6-.7 .6-1.3 .7-.4 .6 2.4 .6 .6 .6-2.5 .6 .1 .7-.4 .6 .9 .6 1.4 .6-2.7 .6 .5 .7 .7 .6-2.2 .6 2.2 .6-1.4 .6 1.9 .7 3.1 .6-1.9 .6 1.8 .6-2.9 .6-1.5 .7 3.2 .6-2.7 .6 1.1 .6-1.3 .6 .6 .7 1.6 .6-1.8 .6 .7 .6-1.1 .6-1.1 .7 2.4 .6-2.1 .6 1.9 .6-.8 .6 .5 .7 .9 .6-.9 .6 .5 .6-1.2 .6 1.7 .7-3.2 .6 .5 .6-.1 .6-.5 .6-.6 .7-1.3 .6 .1 .6-1.1 .6 1.8 .6-1.5 .6 1.9 .7 1.2 .6-.5 .6-.4 .6 1.4 .6-1.5 .7 1.7 .6 .6 .6 .7 .6 1.8 .6 4.6 .7-5.9 .6-1.8 .6 2.9 .6-.7 .6 .7 .7-.9 .6 2.1 .6-2.2 .6 .4 .6-.2 .7-2.6 .6 3 .6-.6 .6 .6 .6-3.8 .7 1.4 .6 .7 .6 1.5 .6 1.9 .6-1.9 .7 2.4 .6-.8 .6-.3 .6 .7 .6-1.2 .7 .4 .6 .5 .6-1.1 .6 1.2 .6-2.1 .7 .7 .6 1.3 .6-.9 .6 1.2 .6 0 .7-1.7 .6 2.9 .6-2.2 .6-1.5 .6 .3 .7-.7 .6 1.7 .6 3.4 .6-.1 .6-1 .7-.5 .6 1.4 .6-1.7 .6-1.1 .6 1.8 .7-.9 .6-.5 .6-1.1 .6 2 .6-4 .7 3.4 .6 .6 .6 .5 .6-.7 .6-.3 .7 2.2 .6-.9 .6-.7 .6 .1 .6 0 .7-1.3 .6 .7 .6 2.5 .6-2.9 .6 2.4 .7 .2 .6-1.9 .6 1.5 .6 1.5 .6-2.3 .7 .2 .6 0 .6 2.1 .6-2.2 .6 1.5 .7-1.5 .6 2.3 .6-.3 .6 1.2 .6-1.2 .6-1.9 .7 1 .6 .9 .6-1.9 .6 1.3 .6-.5 .7 .5 .6 .6 .6-.2 .6-.2 .6-.6 .7 4.7 .6-4.3 .6 2.1 .6 .9 .6-2.2 .7 .3 .6-.2 .6 1.5 .6-1 .6 1.3 .7-1.1 .6 .3 .6 .1 .6-.4 .6 .9 .7 4.5 .6-5.5 .6-.7 .6 1.2 .6-.3 .7 .3 .6-1.1 .6-.3 .6 2.7 .6-1.3 .7 .5 .6-1.2 .6 .7 .6 1.5 .6 1.1 .7-3 .6 1.2 .6-.4 .6 .3 .6 .2 .7-.1 .6 .8 .6 1.7 .6-2.3 .6 .4 .7 .6 .6 .1 .6-1.8 .6 2 .6 .3 .7-1.6 .6-.7 .6 2.7 .6-.3 .6 5 .7-6.2 .6-.1 .6-.8 .6 1.5 .6 .2 .7 .4 .6-1.6 .6 1.7 .6 .2 .6-.5 .7-.1 .6-.4 .6 1 .6-2.2 .6-.1 .7 2.9 .6-1.1 .6 1.1 .6-.6 .6 .9 .7-.8 .6-.5 .6 .1 .6 1.5 .6 .6 .7-.1 .6-2.7 .6 1.3 .6-.2 .6-1.2 .7 2.3 .6-1.3 .6 1.1 .6-.8 .6 6.5 .7-5.8 .6-.3 .6-.1 .6 1.5 .6-1.1 .6-1 .7 1 .6-.8 .6 .2 .6 .4 .6 .6 .7-.4 .6 1 .6-1.4 .6 .4 .6-.8 .7-3.9 .6 4.3 .6 .3 .6 .4 .6-.5 .7-.5 .6 1.6 .6 .9 .6 .2 .6-2.1 .7 .6 .6 0 .6 2 .6-1 .6 1 .7-.4 .6-.4 .6 .1 .6-1.9 .6 2.6 .7-.6 .6 .2 .6-.7 .6-.5 .6 1.4 .7 .7 .6-1 .6-.7 .6 1.3 .6-1.7 .7 1.7 .6-.3 .6-.2 .6-2 .6 .9 .7 .4 .6 1.2 .6 0 .6-.4 .6-4.3 .7 2.3 .6 4.1 .6-2.7 .6 .7 .6-1.4 .7-1.2 .6-.5 .6-.4 .6 .4 .6-2.1 .7-.7 .6-3 .6-2.2 .6-4.6 .6-4.9 .7-5.9 .6-10.9 .6-6.4 .6-13.1 .6-7.4 .7-6.6 .6-3.4 .6 4.1 .6 7.4 .6 8.9 .7 19 .6-.9 .6 8.2 .6 10.3 .6 4.3 .7 2.1 .6 2 .6 4.1 .6 1.2 .6-.7 .7 1.8 .6-.6 .6 1.7 .6 1.3 .6-.9 .7 .3 .6-.1 .6 1.2 .6-.2 .6 .2 .7 .2 .6-1.7 .6 2.4 .6-1 .6-.1 .6-.3 .7 2.7 .6-1.4 .6-3.3 .6 4.1 .6 .9 .7-.8 .6-2.5 .6 .6 .6-.8 .6 1.1 .7 1.6 .6-.4 .6-1 .6 .9 .6 .1 .7 .1 .6-.2 .6 .9 .6-1.9 .6 .9 .7-1.6 .6-.3 .6 1.4 .6-.9 .6-.1 .7 .8 .6 .3 .6-1.2 .6 .5 .6 2.5 .7-1.6 .6-.4 .6-.8 .6 .2 .6 1.1 .7-.4 .6-.3 .6 .5 .6-.3 .6 .7 .7-.1 .6-.9 .6 4.4 .6-4 .6-2 .7 1.9 .6 1.8 .6-2.2 .6 .6 .6-4.3 .7 3 .6 .9 .6-.4 .6-1.9 .6 3.1 .7-2.7 .6 1.5 .6 .4 .6 .7 .6-.3 .7-.2 .6 .1 .6-.3 .6 3.1 .6-3.3 .7 .5 .6-.8 .6 4.2 .6-2.8 .6-.4 .7 .4 .6-1.2 .6-.4 .6 .9 .6-1.2 .7 1.4 .6-.2 .6-.2 .6-.2 .6-1.2 .7 2.2 .6-1.3 .6 .3 .6-.9 .6 2.1 .7-.2 .6-2.3 .6 .3 .6 .1 .6 1 .7-1 .6 .8 .6 .9 .6-.9 .6 .1 .7 .6 .6-.5 .6 0 .6-1.1 .6-.5 .6-.3 .7-.2 .6 1.5 .6-2 .6-.9 .6-.8 .7-.1 .6 0 .6-5.3 .6-1.5 .6-4.4 .7 3.5 .6-6.3 .6 1.3 .6 2.2 .6 1 .7 2 .6 1.5 .6 2.3 .6 1.5 .6 1.9 .7 2.2 .6 .7 .6 0 .6 .8 .6 1.4 .7 .5 .6-2.2 .6 .6 .6-1.4 .6 2.1 .7-1.2 .6 .8 .6-.3 .6 .4 .6-.8 .7 .5 .6 .8 .6-.2 .6 .1 .6-.3 .7-.1 .6 .6 .6 .1 .6-.4 .6 1.4 .7-1.8 .6 .1 .6 4.7 .6-3.5 .6-.9 .7 1.8 .6-2.2 .6-.4 .6 .4 .6-.4 .7 .9 .6-.8 .6 .1 .6 .7 .6-.2 .7 3.4 .6-2.2 .6-1.9 .6 0 .6 1.5 .7 .6 .6 .3 .6-2.5 .6 .6 .6-1.3 .7 .6 .6 3.7 .6-3.4 .6 1.1 .6-.2 .7-1.1 .6 4.6 .6-4.2 .6 .8 .6-1.4 .7 1.5 .6 .1 .6-1.4 .6 3.5 .6-3.6 .7 .7 .6 3.8 .6-4.2 .6 1 .6-1 .7 .5 .6-.6 .6 1.4 .6-.2 .6-2.1 .7 1.2 .6 .4 .6 .6 .6-.4 .6-.6 .6 1.2 .7-1 .6 .1 .6 1.4 .6-1.7 .6-1 .7 1.3 .6-.2 .6-.5 .6 .7 .6 .9 .7 .8 .6-2 .6 .1 .6-1.8 .6 .9 .7 .7 .6-.2 .6-2.1 .6 .5 .6 2 .7-2.3 .6 .7 .6-3.9 .6 1.7 .6-.2 .7 .7 .6-1.9 .6-2.3 .6-1.8 .6-4.2 .7-3.9 .6-9.4 .6-9 .6 1.8 .6-16.5 .7-9 .6-5.7 .6 9.5 .6-1.7 .6 7.3 .7 11.7 .6 6.8 .6 8 .6 6.9 .6 3.2 .7 4.9 .6 2.3 .6 .3 .6 1.2 .6 1.2 .7 .4 .6 .3 .6 .4 .6 6.1 .6-6.1 .7 3.5 .6-2.8 .6 .7 .6-1.1 .6 .5 .7 1.3 .6-.5 .6 .5 .6-1.3 .6 2 .7-2.2 .6 1.7 .6-.8 .6 .7 .6-.7 .7-.7 .6 .5 .6 1.6 .6-.8 .6 3.3 .7-5.1 .6 2 .6 3.9 .6-3.7 .6-.6 .7-.6 .6 1.4 .6-2.1 .6 .1 .6 .4 .7 .2 .6-1.6 .6 2.9 .6-.4 .6-2.3 .7 .5 .6 1 .6 .4 .6 .6 .6 0 .6-.7 .7-.4 .6-.3 .6-.1 .6 .4 .6-.1 .7-.5 .6 1 .6 .5 .6-5.3 .6 5.8 .7-2.3 .6-.7 .6 2.1 .6 .7 .6 3.3 .7-5.7 .6 1 .6-1.9 .6 .2 .6 1.4 .7-1.8 .6 1.9 .6-1.1 .6-.8 .6-1.2 .7 .2 .6-.9 .6 2.5 .6-4.6 .6 .5 .7 1.5 .6-1.6 .6 .5 .6-1.2 .6 1.9 .7-.8 .6-1.4 .6-.7 .6-1.7 .6-.7 .7-.4 .6-3.3 .6-.2 .6-3.6 .6-5.3 .7-4.4 .6-10.6 .6-15.8 .6-24.3 .6-32.7 .7-44.9 .6-57.2 .6-64.6 .6-75.1 .6-68.6 .7-50.9 .6-21.8 .6 12.5 .6 35.5 .6 52.2 .7 71.4 .6 86.5 .6 44.7 .6 51.6 .6 40.6 .7 24.4 .6 22.7 .6 12.5 .6 12.2 .6 3.9 .7 4.5 .6 3.2 .6 2.8 .6 .4 .6 3.7 .7-2.1 .6-.9 .6 2.1 .6 4.4 .6-1.7 .7 4.8 .6-3 .6 0 .6-1 .6 .8 .7 1.7 .6-1 .6 .6 .6-1.6 .6 3.5 .7-1.1 .6 .9 .6-.7 .6 2 .6-.9 .7-.6 .6 .5 .6 .4 .6-.6 .6 .4 .6 .5 .7-.6 .6-.1 .6-.2 .6 1.9 .6-1.1 .7-1.4 .6 2.4 .6-1.3 .6 .6 .6-1.4 .7-.1 .6 .9 .6 .8 .6 1 .6-.9 .7 .3 .6-.8 .6-1.3 .6-.2 .6 1.4 .7 .2 .6 .2 .6-.3 .6 .5 .6-1.7 .7 5 .6-3.5 .6 4 .6-4.7 .6-.7 .7 1 .6 .4 .6 .1 .6-.4 .6 .9 .7-1.8 .6-.1 .6 .7 .6 .2 .6 1 .7-1.9 .6 2.8 .6-.5 .6-2.5 .6 2.2 .7 3.9 .6-2.8 .6-2.3 .6-.1 .6 .8 .7 1.6 .6-1.3 .6 .6 .6-1.5 .6-.5 .7 .9 .6 0 .6-.9 .6-.2 .6 2.5 .7-1.4 .6 1.4 .6-3 .6 1 .6 1.9 .7-.8 .6-1.2 .6 .7 .6 1.8 .6-1.4 .7 .1 .6 .6 .6 2 .6-2.8 .6 4 .7-4.9 .6 .8 .6 1.2 .6-1.1 .6-.4 .7 .2 .6-.7 .6 .1 .6 .3 .6 .6 .7-.2 .6 .5 .6 .9 .6-2.4 .6 .6 .7 1 .6-.6 .6-.5 .6 1.7 .6-1.4 .7-.4 .6 1.3 .6-.9 .6-1.1 .6 1 .6 .9 .7 5.3 .6-4.5 .6-2.3 .6 1 .6-.1 .7 .1 .6 .5 .6-2.2 .6 .9 .6-.6 .7 2.2 .6-1.5 .6-.1 .6 1.6 .6-.3 .7 0 .6-1.6 .6 .7 .6 .7 .6-1.2 .7 1.1 .6-.7 .6 .2 .6 .6 .6-1.6 .7 .8 .6 5.4 .6-5.3 .6-1.5 .6 3.1 .7-2.8 .6 .5 .6 1.2 .6-1.2 .6 .9 .7 .2 .6-1.8 .6-.1 .6 1.6 .6-5.3 .7 3.2 .6 1.1 .6-2.7 .6 1.2 .6-1.6 .7-.9 .6 .8 .6-4.8 .6 1.3 .6-2.3 .7-2.1 .6-6.2 .6-6.7 .6-11.2 .6-13.2 .7-13.5 .6-22.3 .6-24.7 .6-22.4 .6-10.5 .7-7 .6 3.1 .6 11.6 .6 13 .6 23.4 .7 17 .6 21.2 .6 13.9 .6 14.6 .6 8.4 .7 5.2 .6 6.8 .6 2 .6 1.6 .6 2.2 .7 1.2 .6 .6 .6 1.5 .6-1 .6 .5 .7-.5 .6 1.6 .6-.4 .6 1.6 .6-.6 .7 1.4 .6 3.6 .6-3.8 .6-.9 .6 2.7 .7-1.5 .6 .2 .6-.7 .6 1.2 .6-.1 .7-1.4 .6 1.7 .6-.1 .6-1.3 .6 2.8 .6-2.1 .7 .1 .6 .1 .6 1.8 .6-.3 .6-.4 .7 0 .6-1.2 .6 .9 .6-1.5 .6 1.2 .7-.5 .6 1.1 .6-.1 .6-.8 .6-.3 .7 1.2 .6-3.7 .6 3.4 .6-1.5 .6 2.3 .7-.7 .6-.8 .6 .6 .6 .4 .6-1 .7-.3 .6 1.1 .6-.9 .6 .9 .6 .3 .7-1.7 .6 1.5 .6 2.3 .6-3.5 .6 1.4 .7-.1 .6-.7 .6-.4 .6-.8 .6 .8 .7 .1 .6 .2 .6-1.3 .6-.7 .6-2.4 .7 1 .6-1.7 .6-2.2 .6-4.3 .6-3.6 .7-3.8 .6 2.3 .6-2.5 .6 1.6 .6-1.2 .7 3.5 .6 1.1 .6 4.2 .6 1.3 .6 2.8 .7 2.6 .6 0 .6 4.4 .6 0 .6-1.3 .7 1.3 .6-1.2 .6-.6 .6 1.2 .6-.1 .7 1.6 .6-3.3 .6 3 .6-2 .6 2 .7-.5 .6 1.8 .6-1 .6-.5 .6 .3 .7 .2 .6-.5 .6-2.2 .6 3.6 .6 .1 .7-1.4 .6-.2 .6 1.8 .6-1.6 .6 1.7 .7-.9 .6 3.1 .6 .6 .6-3.7 .6 .2 .7 .7 .6-1.4 .6 1.3 .6-.2 .6 .4 .6-1.2 .7-.1 .6-.6 .6 1.2 .6 .5 .6-1.8 .7 1.6 .6-.9 .6-.8 .6 .7 .6 2 .7-.6 .6-.2 .6-1.2 .6 1.2 .6-1.2 .7-.9 .6 1.4 .6 .2 .6 .5 .6-1.6 .7 1 .6-1.1 .6 1.9 .6 .6 .6-2.4 .7 2 .6-1 .6 .4 .6-.2 .6 .2 .7 .6 .6 0 .6-2.6 .6 2.3 .6-1.9 .7 1.3 .6-1 .6 1.4 .6-1 .6 1.1 .7 .3 .6-.6 .6 0 .6-2.2 .6 3.1 .7-.5 .6-1.1 .6-1.9 .6 2.4 .6-.5 .7 .7 .6 .4 .6 .5 .6-1 .6-.4 .7 .2 .6 1.7 .6-1.2 .6-.5 .6 .8 .7 .9 .6-2 .6 .8 .6-.8 .6 .9 .7 .8 .6-.5 .6-.5 .6 .3 .6-.3 .7-.7 .6 3.8 .6-3.7 .6 .5 .6 .4 .7 .2 .6 .9 .6-2.1 .6-.4 .6 1.6 .7-.1 .6 0 .6-1 .6 .2 .6 .2 .7-.1 .6 1.2 .6-1.2 .6 0 .6-.5 .7 .9 .6-.2 .6-.6 .6 1.1 .6-.5 .6-2.1 .7 2.3 .6-.8 .6-1.3 .6 .1 .6 .9 .7-.1 .6-.7 .6-.4 .6 1.5 .6-.8 .7 .4 .6-1.5 .6 2.5 .6-3.7 .6 1.7 .7 1.2 .6-2.3 .6 .5 .6 3.3 .6-5.6 .7-2.1 .6 .8 .6-5 .6-5 .6-3.1 .7-10.4 .6-9.8 .6-8.7 .6-7.9 .6-11.1 .7 5.2 .6-9 .6-.1 .6 11.8 .6 7.8 .7 2.3 .6 16.9 .6 7.1 .6 5.6 .6 5.4 .7 3.8 .6 1.9 .6 2.5 .6 .7 .6 1.4 .7 .4 .6 1.2 .6 1.2 .6-1.6 .6 .2 .7 .4 .6 1.4 .6-1.4 .6 1 .6 0 .7 .8 .6 0 .6 .2 .6-.7 .6 .9 .7-.5 .6 .5 .6 .6 .6-1 .6 0 .7 .1 .6 2.4 .6-3 .6 .8 .6 .8 .7-2.2 .6 1.5 .6-.6 .6 .5 .6 1.9 .7-2.6 .6 5.6 .6-5.5 .6 .9 .6 .6 .7 1.3 .6-1.6 .6 .5 .6-.8 .6 .9 .7-1.4 .6 .9 .6 0 .6-4 .6 3 .7 1.1 .6-.8 .6 1.5 .6-.7 .6-.5 .7 .4 .6 .1 .6-1.4 .6 .8 .6 2.2 .6-2.7 .7-.4 .6-1.8 .6-.5 .6 .3 .6-4.1 .7-1.7 .6-.7 .6-1.2 .6-2.5 .6 0 .7-1 .6 1.2 .6-.3 .6 4.3 .6 .5 .7 .8 .6 2.3 .6 1.4 .6 4 .6-3.8 .7 2.5 .6-.2 .6 1.5 .6 0 .6-.1 .7-1.2 .6 .4 .6-.5 .6 .5 .6 .1 .7 1.3 .6 .4 .6-1.5 .6 1.6 .6-.9 .7 .9 .6 .4 .6-.9 .6 .8 .6 1.4 .7-2.7 .6 2.9 .6-3 .6 1.1 .6-.6 .7 1 .6-1.7 .6 2.5 .6-1.8 .6-.2 .7 2.4 .6-.8 .6-.1 .6-1.1 .6 .1 .7 0 .6-.8 .6 1.2 .6 0 .6-1.1 .7 .2 .6-.9 .6 2.4 .6-.5 .6-.5 .7-.1 .6-1.1 .6 .4 .6 1 .6-1.1 .7 .5 .6-.9 .6-.7 .6 .1 .6-2.1 .7-1.4 .6 .6 .6 .5 .6-4.5 .6-3.6 .7-1.8 .6-6.2 .6-8 .6-7.2 .6-10.2 .7-6.4 .6-2.2 .6-.4 .6 2.2 .6 4.5 .7 1.4 .6 6.9 .6 6.9 .6 5.3 .6 6.9 .7 4.1 .6 3.4 .6 4.4 .6 2.8 .6 5.8 .6-5.4 .7 1.9 .6 1.3 .6-.1 .6 1.1 .6-1.7 .7 1 .6 3.7 .6-2.1 .6-2.7 .6 1.7 .7 1.8 .6-1.2 .6-.4 .6-.1 .6 1 .7-1.7 .6 .4 .6 .4 .6 .4 .6 .7 .7-1.2 .6-.6 .6 .3 .6-1.7 .6-1.1 .7 .6 .6-.4 .6-.4 .6-1.3 .6 .5 .7 2.9 .6-.6 .6-2.1 .6 2.8 .6 1.4 .7-4.1 .6-.1 .6 4.2 .6-.2 .6-.2 .7 .5 .6 .1 .6-1.1 .6 1.2 .6-1.1 .7 1.5 .6-.2 .6-.8V700.4"/>
<path stroke-width="2.4" d="M24.2 700.4H953.9"/>
<path fill="#2A00FF" d="M24.2 739V699.2l.6 .3 .6-2.7 .7 3.4 .6-2.2 .6-.6 .6-.4 .6 .5 .7-2.4 .6 1.3 .6 1.6 .6-.1 .6 .6 .7-1.3 .6-2.5 .6 1.5 .6 .7 .6 .9 .7 1.1 .6-3.7 .6-.1 .6-2.9 .6-.3 .7-5.9 .6-3.8 .6-6.8 .6-11.5 .6-11.5 .7-15.8 .6-14.1 .6-15.7 .6-2.3 .6-2 .7 8.2 .6 13.9 .6 16.6 .6 13.5 .6 14.1 .7 6.2 .6 11.4 .6 6.8 .6 3.4 .6 1.8 .7-.7 .6 3.2 .6 .5 .6-1.8 .6 3.5 .7-1.6 .6-.4 .6 0 .6 1.5 .6 2.1 .6-.2 .7-2.5 .6 .1 .6 2.5 .6-1.3 .6 .3 .7 1.4 .6-1.3 .6 2.3 .6-1.5 .6 .1 .7-2.2 .6 3.8 .6-2.2 .6 2.7 .6 .3 .7 .6 .6-1.1 .6 .1 .6 .8 .6-2 .7 1.2 .6-.4 .6 2.2 .6-1 .6-1.9 .7 .6 .6 .8 .6-.7 .6 .5 .6 .5 .7-.1 .6-.1 .6 1 .6-2.3 .6-.6 .7 2.4 .6 .2 .6-2.5 .6 2.1 .6-.2 .7 .2 .6 .4 .6 .5 .6-1.2 .6 2.4 .7-2.6 .6-.4 .6 1.8 .6 .2 .6-2.5 .7 2.3 .6 .5 .6-1.6 .6 2.2 .6 1 .7-2.1 .6 .5 .6 .3 .6 0 .6-.1 .7-.3 .6 6.9 .6-8 .6 1.2 .6 .1 .7-.1 .6-1.1 .6 .5 .6-2 .6 4.6 .7-3.1 .6-.2 .6 4.1 .6-3.7 .6 .8 .7 0 .6 2.6 .6 1.1 .6-3.5 .6 .4 .7-1.8 .6 1 .6 3.3 .6-6.2 .6 4.2 .7-.5 .6-.3 .6-.7 .6-2 .6 1 .7-1 .6-1.3 .6 3.7 .6-2.4 .6-.4 .7 2.5 .6-3.3 .6-3.2 .6 2.6 .6 .8 .6 1 .7 1 .6-.7 .6 1.2 .6-.5 .6 1.2 .7-.7 .6 .4 .6-.8 .6 .5 .6 1.4 .7-1.8 .6 2 .6 .4 .6-1.9 .6 2.3 .7-.5 .6 .9 .6 0 .6-1.9 .6 1.4 .7-2.7 .6 .2 .6 1.2 .6 1.1 .6-.6 .7-2.6 .6 1.4 .6 3.2 .6-1.7 .6-.2 .7-.3 .6-.3 .6 1.2 .6 3.7 .6 1.6 .7-6.7 .6 .8 .6 .5 .6-1.2 .6 1.9 .7 1.1 .6-2.2 .6 .4 .6 .5 .6 .4 .7-1.1 .6-.4 .6 1.9 .6 .5 .6-2.1 .7 1.9 .6-2.4 .6-.1 .6 2.1 .6-2.9 .7 2.6 .6-.1 .6 .1 .6-.5 .6-.4 .7 .5 .6 1.1 .6-.3 .6 1.3 .6-.5 .7-1.2 .6 .2 .6 .7 .6-.8 .6 1.1 .7-.7 .6 0 .6-.9 .6 0 .6 2.1 .7-.6 .6 1.4 .6-3.7 .6 4.2 .6 2.8 .7-7.7 .6 2.8 .6-.1 .6-.4 .6 1.3 .7-1.3 .6 1.3 .6 .2 .6-.2 .6-.3 .7-2.8 .6 .3 .6-.4 .6 2.1 .6-2.4 .6-1 .7 2.8 .6-2.3 .6 2.9 .6-.3 .6 .4 .7 .9 .6 .3 .6-.2 .6 2.6 .6-3.2 .7 .3 .6 1.3 .6 2.2 .6-.8 .6-.5 .7-.9 .6-.4 .6 1.6 .6 .3 .6-.6 .7 0 .6-.3 .6 0 .6 1 .6 4.5 .7-4.1 .6 2.5 .6-2.5 .6-2.6 .6 1.5 .7 3.3 .6-4.2 .6 3.1 .6-1.3 .6 0 .7 1.2 .6-.1 .6-1.1 .6 .4 .6 .9 .7-.4 .6-.7 .6 .9 .6 5 .6-5.5 .7 .6 .6-.2 .6 1.2 .6-.9 .6 .3 .7 1 .6-2.6 .6 1.3 .6-.1 .6-.5 .7-.4 .6 .4 .6 1.6 .6-.8 .6 6 .7-5.5 .6-.5 .6-.6 .6 2 .6-1.5 .7 .4 .6 1.3 .6 1.2 .6-2 .6-1.1 .7 1.2 .6-.3 .6-.4 .6 .8 .6 0 .7-1 .6 .2 .6-1.1 .6 1.9 .6 1.9 .7-.3 .6-1.6 .6 1.4 .6 .4 .6-2.2 .7 2.5 .6 0 .6-1.5 .6 3 .6-3.4 .7 1.7 .6-1.6 .6 1.6 .6-1.1 .6 3 .7-1.5 .6 3.6 .6-4.4 .6-.5 .6 3.7 .6-4.4 .7 .5 .6-1 .6 2.3 .6-1.2 .6 .3 .7 .8 .6-.6 .6 .4 .6-.4 .6 4.5 .7-3.9 .6 .7 .6-.2 .6-.5 .6 0 .7 0 .6-.4 .6 1.5 .6 0 .6 .9 .7-2.4 .6-.5 .6 1.3 .6-.1 .6 1.2 .7-.7 .6-1 .6-2.8 .6 5.3 .6-1.4 .7 .3 .6-.7 .6-.6 .6 1.4 .6-.3 .7-.4 .6 1.5 .6-.5 .6 1.2 .6-1.5 .7-.4 .6 .3 .6 0 .6 4.6 .6-3.6 .7-1.8 .6 .5 .6 .8 .6-.9 .6 .9 .7 0 .6-1.3 .6 .1 .6-.7 .6-2.2 .7 1.2 .6-.5 .6-2.6 .6 1.3 .6-2.4 .7-2.5 .6-4.5 .6-8.6 .6-2.6 .6-14.4 .7-7.9 .6-12 .6-13.9 .6-7.8 .6-1.4 .7 5.8 .6 5.7 .6 15.1 .6 9.2 .6 8.2 .7 14.9 .6 5.3 .6 5.5 .6 5.4 .6 1 .7 .9 .6 1.2 .6 1.1 .6 1.7 .6 .1 .7 1.1 .6-1.4 .6 1.9 .6 .5 .6-.2 .7-1.7 .6 2.9 .6-1.9 .6 .2 .6 3.3 .7-2.6 .6 5.1 .6-5.1 .6 .1 .6 1 .6-.7 .7 .1 .6-.4 .6-.1 .6-.2 .6 .9 .7-.5 .6-.3 .6-.6 .6 1.3 .6 .4 .7 .2 .6-.5 .6 1.3 .6-.5 .6-1.4 .7-1 .6 .5 .6 1.5 .6-1.4 .6 .6 .7 .7 .6-1.5 .6 .4 .6 0 .6 .2 .7-.3 .6 1 .6-.1 .6 .3 .6-1.2 .7 .3 .6-.4 .6 1 .6-.1 .6-.2 .7 0 .6 .2 .6-1.4 .6 1 .6 2.2 .7-1.6 .6-.7 .6 0 .6 .1 .6 .2 .7-1.4 .6 1.8 .6-1.2 .6-.2 .6 0 .7 2.7 .6-1.2 .6-.2 .6-.8 .6-.1 .7-.1 .6 5 .6-4.2 .6-1.6 .6 .8 .7 0 .6-.2 .6-.7 .6 1.5 .6-.4 .7 1.5 .6-.9 .6-.6 .6-.2 .6 1.1 .7 .5 .6-.5 .6 1 .6-.8 .6-.7 .7-.5 .6-.8 .6 1 .6 .8 .6-.8 .7 .4 .6-1.1 .6 0 .6 2.1 .6-1.1 .7-1.8 .6 .6 .6 1.1 .6 2.3 .6-3 .7 .2 .6-3 .6 2.6 .6 .4 .6-.3 .7 .6 .6-.2 .6-.5 .6 .4 .6 .5 .6-.2 .7-1.7 .6 .3 .6-1 .6 1.7 .6-6.2 .7 .6 .6-1.9 .6-4.9 .6-.9 .6-2.2 .7 2.7 .6 8 .6-4.9 .6 2.2 .6 2 .7 1.7 .6-.3 .6 3.1 .6 0 .6 .8 .7 1.6 .6-.2 .6-.1 .6-.4 .6 .8 .7-2 .6 1.3 .6 5.2 .6-.9 .6-4.3 .7 .5 .6 .4 .6 .2 .6-1 .6-1.3 .7 3.5 .6-1.8 .6-.3 .6 .6 .6-2.3 .7 1.6 .6 1.5 .6-1.6 .6 1.2 .6-1.6 .7 .6 .6-.9 .6 1.7 .6-1 .6-1 .7 1.5 .6 .6 .6-.5 .6-.5 .6 .5 .7-.7 .6-.5 .6 1.5 .6 .6 .6-.5 .7 .6 .6-.7 .6-.4 .6 1.1 .6-1.3 .7 .1 .6 1.2 .6-.9 .6 .9 .6-1.7 .7 .7 .6-.6 .6-.8 .6 .6 .6 .5 .7-.2 .6 .6 .6-.4 .6-1.4 .6 5.1 .7-3.6 .6-.3 .6-.1 .6-.3 .6 1.5 .7-.6 .6-.3 .6 3.1 .6-3.7 .6 .2 .7 .2 .6 .8 .6 .1 .6 0 .6-1.6 .7-.6 .6 1.9 .6 .4 .6-.9 .6-.5 .6 .6 .7-.3 .6-.8 .6 .2 .6 .5 .6 .6 .7-1 .6-1.2 .6 2.1 .6-2.9 .6 .7 .7-1.7 .6 .9 .6-1 .6-1 .6-3 .7-1.5 .6-.9 .6-.7 .6-.1 .6 1.9 .7-.8 .6 3.2 .6-.5 .6-.9 .6-.3 .7-2.4 .6-1.6 .6-6.6 .6-7.6 .6-7.4 .7-13.7 .6-7.9 .6-9 .6-2.9 .6-1 .7 7.5 .6 6.6 .6 10 .6 11.7 .6 7.5 .7 5.5 .6 8.7 .6 3.4 .6-.9 .6 3.9 .7-2.2 .6 2.5 .6 3.2 .6-2.3 .6 1.2 .7 .1 .6-.4 .6 1.3 .6 0 .6-.3 .7 1.6 .6-1 .6-.4 .6 2.5 .6-2.2 .7 .1 .6 1.6 .6-.8 .6 .9 .6-1.7 .7-.5 .6 .6 .6 1.8 .6-1.3 .6-.9 .7 .2 .6-.2 .6 0 .6 1.5 .6-1 .7-.1 .6 1 .6-.3 .6-.4 .6-1.6 .7 .7 .6 .8 .6 2.2 .6-1 .6-1.3 .7-.7 .6 1.1 .6-.8 .6-.7 .6 1.3 .7 1 .6-1.2 .6 0 .6-2.2 .6 5.6 .6-3.5 .7-.9 .6 1.4 .6 3.9 .6-4.5 .6 0 .7-.5 .6 .1 .6 2 .6-2.8 .6 1.2 .7-1 .6 .4 .6-.5 .6-.7 .6 1.2 .7 .1 .6-.8 .6 .3 .6 2 .6-2.2 .7 .2 .6-2.3 .6 2.1 .6-1.5 .6 1 .7-1.3 .6-1.1 .6-.1 .6 1.2 .6-1.2 .7-1 .6 3.7 .6-5.3 .6 2.1 .6-3.4 .7 .8 .6-1.4 .6-1.7 .6 .4 .6-3.2 .7-.9 .6-3.9 .6-3.3 .6-7.4 .6-10.5 .7-20 .6-25 .6-39.9 .6-51.4 .6-58.2 .7-65.2 .6-62.5 .6-31.3 .6-8.9 .6 20.6 .7 41.7 .6 63.2 .6 55.7 .6 41 .6 59.7 .7 36.4 .6 23.5 .6 15.9 .6 12.5 .6 7.4 .7 4.8 .6 3.4 .6 4.3 .6 1.8 .6 .2 .7 .2 .6 2.1 .6 1.5 .6 5 .6-4 .7 .7 .6 .9 .6-2 .6 1.6 .6 1.9 .7-1.3 .6 0 .6 0 .6 1.8 .6 .9 .7-3.4 .6 3.2 .6 .2 .6-1.2 .6-.6 .7 .2 .6 1.6 .6-.6 .6 .7 .6-.5 .7 .6 .6-2.5 .6 1.2 .6 1.1 .6 .1 .6-1.2 .7 1.7 .6-.3 .6 .2 .6-.3 .6-1.3 .7 1.9 .6-3 .6 3.4 .6-.3 .6 .6 .7-.1 .6-.3 .6-3.2 .6 2.4 .6 .5 .7-.5 .6 .3 .6 .1 .6 .6 .6-1.3 .7 .7 .6 .2 .6 .1 .6-.4 .6 .2 .7 .9 .6-.4 .6 .4 .6 1.4 .6-1.2 .7-3.1 .6 3.4 .6-1.3 .6-.6 .6 .7 .7 0 .6 .7 .6-.2 .6 0 .6 .4 .7-.8 .6-.6 .6-.3 .6-.6 .6 .9 .7-2.1 .6 2.4 .6 1 .6 .3 .6-1.3 .7-.5 .6-.1 .6 .7 .6-1 .6 1 .7 .3 .6-.1 .6-.2 .6-.5 .6 1.5 .7-.2 .6-1.7 .6 1.2 .6-1.2 .6 .4 .7 .2 .6-2.5 .6 2.9 .6-.7 .6-.1 .7-.2 .6 1.6 .6-.8 .6-1.2 .6 .6 .7-.5 .6-.2 .6 1.7 .6-.4 .6-1.2 .7 .7 .6 1.1 .6-1.1 .6 .1 .6 .7 .7-.1 .6-1.1 .6 .2 .6 1.4 .6-.1 .7-.5 .6-.3 .6 0 .6 .6 .6-.9 .7 1.9 .6-1 .6-.7 .6 0 .6 .1 .6-.4 .7 .2 .6 .4 .6-1.6 .6 1.4 .6-2.2 .7 3.5 .6-2.1 .6 1.7 .6 .4 .6-.6 .7 1.5 .6-1.9 .6-.3 .6 .7 .6-.5 .7-.7 .6 .8 .6-1.2 .6 4.1 .6-4.9 .7 1.5 .6 1 .6-1.7 .6 .3 .6 1.4 .7-2.8 .6 1.8 .6-.9 .6-1.8 .6 2.7 .7 0 .6-1.1 .6 2.2 .6-3 .6 1.5 .7-2.1 .6-.1 .6 1.8 .6-.1 .6-2.6 .7 1.8 .6-3.5 .6 .9 .6-1.1 .6-.2 .7-.5 .6-3.6 .6-2.8 .6-5.7 .6-5.3 .7-15.3 .6-14.9 .6-19.3 .6-25.3 .6-8.3 .7-23.6 .6-7.1 .6 3 .6 20.5 .6 7.5 .7 21.3 .6 20.1 .6 16.5 .6 13.3 .6 10.9 .7 6.9 .6 6 .6 3.1 .6 2 .6 1.1 .7 1.3 .6 .2 .6 1 .6-1.1 .6 2.1 .7 .6 .6-.9 .6-.8 .6 1.8 .6 1 .7 2.4 .6 2.5 .6-5.4 .6 .3 .6 .8 .7-1.5 .6 .5 .6 .4 .6-.2 .6 1.2 .7-.7 .6-.4 .6-.3 .6 2.1 .6-1.8 .7 1.3 .6 .9 .6-2.4 .6-.2 .6 1.8 .6-1.5 .7 .6 .6-.5 .6 2.8 .6-3.2 .6 .9 .7 1 .6-.3 .6-.3 .6 .2 .6-.7 .7-.2 .6-1 .6 2.4 .6 .1 .6-3 .7 2 .6 .3 .6 1.1 .6-1.6 .6-1.7 .7 1.8 .6-.4 .6 .1 .6-.6 .6 1.4 .7 .1 .6-1.2 .6-.3 .6 1.3 .6-.9 .7-.6 .6-2.2 .6 3.3 .6-2.2 .6-2 .7 3 .6 .4 .6 .7 .6-1.1 .6-1 .7 0 .6-3 .6 .3 .6-4.9 .6 2.7 .7-5.2 .6-2.5 .6-1.9 .6-.5 .6 3.3 .7-.5 .6 3 .6 3.1 .6 4.3 .6-2.7 .7 3.9 .6 .5 .6 .4 .6-.6 .6 3.4 .7-1.5 .6 .2 .6 1.7 .6-.9 .6 0 .7-.6 .6 .8 .6 .2 .6-.5 .6-.6 .7 2 .6-1.1 .6 .3 .6-.1 .6-.7 .7 1.2 .6 .8 .6-1 .6 .9 .6-2.3 .7 .3 .6 1.9 .6-.8 .6 1.3 .6-1.1 .7 .3 .6-1.8 .6 1.1 .6 .2 .6-.6 .7 1.2 .6-.8 .6 1 .6 0 .6-1.9 .7 3.7 .6-2.7 .6 1.1 .6-1.3 .6 1.3 .6-3.7 .7 4.2 .6-1.9 .6 1.4 .6 .5 .6 1.4 .7-1.1 .6-2 .6 1.6 .6 0 .6-1.1 .7 .2 .6-.3 .6 .3 .6-1.6 .6 2.3 .7-.5 .6-2.8 .6 1.8 .6-.8 .6 1.1 .7-.7 .6 .2 .6-2.2 .6 2.8 .6-1.8 .7 1 .6-.4 .6-.6 .6-.7 .6 1.4 .7-.7 .6 .4 .6 1.3 .6-4.4 .6 1.5 .7 0 .6 3.7 .6-3.9 .6-.6 .6 2.7 .7-2.6 .6 .2 .6 1.2 .6-.2 .6-.3 .7 1.8 .6-.9 .6-.2 .6-1.1 .6 3 .7-.1 .6-1.5 .6 2.8 .6-3.6 .6 1.8 .7-.4 .6 .4 .6 1.9 .6-1.7 .6 1.3 .7-.5 .6-.2 .6-1.4 .6 .9 .6 .6 .7-.8 .6 .7 .6 .7 .6-.8 .6 .7 .7-.9 .6 .9 .6 0 .6-1 .6 2.1 .7-1.7 .6-1.7 .6 1.5 .6 0 .6 1.3 .7-1.1 .6-.9 .6 1.5 .6-.9 .6-1.3 .7 3.4 .6-1.3 .6-1.7 .6 1.6 .6 0 .7 .6 .6 1.3 .6 .9 .6-3.5 .6-.6 .6 .6 .7 1.2 .6 .6 .6-1.7 .6-1 .6 .8 .7-.2 .6-1.1 .6 1.7 .6-.3 .6-1.1 .7 1 .6 0 .6-2.6 .6 .9 .6 .8 .7-.9 .6-1.5 .6-.3 .6-2.4 .6-4 .7-4.7 .6-4.8 .6-1.9 .6-14.4 .6-3.4 .7-2.6 .6 1.3 .6 3.7 .6 1.7 .6 5.7 .7 7 .6 1.4 .6 7.2 .6 3.6 .6 3 .7 .2 .6 9.1 .6-3.5 .6 .4 .6-.6 .7 1.1 .6-.4 .6-.9 .6 2.4 .6-.7 .7 1.1 .6-1.4 .6 .9 .6-2.8 .6 3.5 .7-.6 .6 1.1 .6-1.8 .6 .5 .6 .5 .7 .7 .6-1.1 .6 1 .6-1.4 .6 .3 .7 1.1 .6-.4 .6-1.5 .6 .9 .6-.2 .7 1.1 .6-.9 .6 1.6 .6-1.5 .6-.2 .7 .9 .6 3.2 .6 0 .6-3.1 .6-.4 .7-.2 .6 .3 .6-.3 .6-2.3 .6 3.8 .7-1.5 .6 2.2 .6-.6 .6-.2 .6-1.6 .7 0 .6-1.8 .6 2.5 .6 0 .6-.2 .7-.9 .6-.1 .6 1.3 .6-.2 .6-1 .7 .3 .6-1.3 .6-.9 .6-1.2 .6-.8 .6-1.2 .7-3.2 .6-1.5 .6-2.1 .6-1.6 .6-3.5 .7 3.1 .6-1.7 .6 2.7 .6 1.9 .6 1.6 .7 .7 .6 4.7 .6 0 .6 2.2 .6 1.4 .7 1.6 .6-.4 .6 .3 .6-.5 .6 2.3 .7-2.3 .6 .7 .6-1.5 .6 1.9 .6-.5 .7 .4 .6-.7 .6 .1 .6 .5 .6-.5 .7 .3 .6 .7 .6-1.2 .6 1.1 .6 .2 .7 2.4 .6-2.5 .6-.4 .6-1.9 .6 1.3 .7 1 .6 0 .6-1.1 .6 .5 .6 .9 .7-1.1 .6 4.1 .6-4.6 .6 0 .6-.3 .7 2.2 .6-1.5 .6-1.1 .6 1.2 .6-1.4 .7 .6 .6 2 .6-1 .6-.5 .6 .6 .7-.5 .6-.7 .6 0 .6 .5 .6 .8 .7-2.5 .6 2 .6-.5 .6-.1 .6-3.1 .7 1.9 .6-.6 .6-1.6 .6 .2 .6-2.8 .7-4.4 .6-3.3 .6-8 .6-5.1 .6-8.2 .7-7 .6-1.4 .6 2.7 .6 3 .6 2.5 .7 5.2 .6 5.2 .6 2.6 .6 5 .6 8.9 .7 .3 .6 3.3 .6 1.4 .6 .9 .6 .3 .7 .1 .6 .9 .6 0 .6 1.5 .6-.9 .6-.6 .7 1.5 .6 1 .6-1.9 .6-.5 .6 .6 .7 .9 .6-.7 .6 2 .6-1.6 .6 .6 .7-1.4 .6 1.6 .6-2.4 .6-.3 .6 .2 .7 .5 .6 1 .6-.8 .6-3.3 .6 1.8 .7 .5 .6-.5 .6 .6 .6-.8 .6 .6 .7-.8 .6 .7 .6 1.2 .6-1 .6 3.1 .7-3.2 .6 2.3 .6-.7 .6-.9 .6 3 .7-1.7 .6 .2 .6 1.4 .6-.9 .6 1.4 .7-2.1 .6 .7 .6-.4 .6 .4 .6 1 .7-1.3 .6-2.4 .6 3.2V739"/>
<path stroke-width="2.4" d="M24.2 739.0H953.9"/>
<path fill="#FF00FF" d="M24.2 777.7V742.6l.6 .5 .6 .2 .7-.2 .6-1.1 .6-2.5 .6 2.2 .6 1.1 .7-.4 .6 .1 .6 1.1 .6-1.5 .6 3.1 .7-3.5 .6 .8 .6-.9 .6 .5 .6-.7 .7 1.2 .6-3.1 .6 .5 .6 1.7 .6-3.6 .7-2.4 .6-4.7 .6 1.5 .6-6.7 .6-1.9 .7-9 .6-6.9 .6-5.3 .6-2.3 .6 .8 .7 1.9 .6 6.7 .6 9.6 .6 6.2 .6 5.4 .7 2.9 .6 3.4 .6 4 .6-1.9 .6 1.6 .7 2.4 .6 5.3 .6-4.4 .6-1.3 .6 1 .7 1.3 .6-.6 .6 5.2 .6-2.9 .6-2.1 .6 .6 .7 2.4 .6-.7 .6-.9 .6-.6 .6 6.5 .7-3.7 .6-3.8 .6 2 .6 1.9 .6-.8 .7 .7 .6-.7 .6 1.9 .6-2.3 .6 2.2 .7-2.6 .6 .1 .6 .2 .6 2.3 .6 .5 .7 1.5 .6-1.9 .6 .8 .6-1.4 .6 1.5 .7-1.8 .6 .8 .6 .6 .6 .9 .6-1.1 .7 0 .6 1.9 .6-2 .6 .1 .6 1.2 .7-.6 .6-.6 .6-.3 .6 .6 .6 1.1 .7-.3 .6-.5 .6-1 .6 .8 .6 .8 .7-.9 .6 0 .6-1.3 .6 1.2 .6 .5 .7-.5 .6-.4 .6 2.1 .6-1.3 .6 4.9 .7-4.7 .6-.3 .6-1.6 .6 .6 .6 5.8 .7-4.3 .6-1.2 .6-.3 .6 1.8 .6 0 .7-2.9 .6 0 .6 .4 .6-1.6 .6-1 .7-3.1 .6 2.8 .6-5.9 .6-4 .6-1.9 .7-.5 .6 6.4 .6-2.4 .6-2.6 .6 7.3 .7 1.8 .6 .5 .6 1.5 .6 2.4 .6 1.5 .7-1.8 .6 0 .6 3.1 .6-1.6 .6-.3 .7 .6 .6-1.2 .6 .9 .6 5.3 .6-5.1 .7 1.5 .6-3.3 .6 2.6 .6-.4 .6-1.2 .6 .6 .7 .9 .6 1.8 .6-1.9 .6-.9 .6 1.2 .7 1.1 .6-2.3 .6-.8 .6 1.1 .6 0 .7 2.5 .6-1 .6 1.6 .6-2.9 .6 .4 .7 2.8 .6-2.8 .6-.3 .6 1.7 .6-.4 .7-1.6 .6 2.7 .6-1.6 .6-.5 .6 .7 .7 .6 .6-.5 .6-.2 .6-.2 .6-.6 .7 2.7 .6 1.6 .6-2.6 .6-1.5 .6 2.5 .7-2.5 .6 2.3 .6 .1 .6 .5 .6-1 .7 .3 .6-.4 .6 .3 .6-.7 .6 .3 .7 2.5 .6-3 .6 1 .6 .2 .6 .4 .7-1.1 .6 1.1 .6 3 .6-2.2 .6-2.3 .7 .3 .6 2.2 .6-1.6 .6 1.1 .6 .7 .7-.6 .6-.4 .6 .7 .6-.9 .6-.6 .7 2.3 .6 .5 .6-1.5 .6-.1 .6-3.8 .7-.2 .6 3.8 .6 2.2 .6-1.5 .6 .8 .7-.5 .6 1.1 .6-1.6 .6 .6 .6 .5 .7 .7 .6-2.4 .6 .7 .6 .3 .6 1.1 .7 .3 .6-1.9 .6-1.5 .6 2.1 .6-.8 .7 3 .6-.2 .6-1.3 .6 1.7 .6-1 .6 .2 .7-1 .6-1.4 .6 5.9 .6-4.1 .6 1.4 .7-1.5 .6 0 .6 2.7 .6-.6 .6 0 .7-2.4 .6 1.3 .6 .6 .6-.4 .6 .2 .7-.4 .6-.8 .6 .2 .6 1.7 .6-.1 .7-2.4 .6 .9 .6 .4 .6 2.4 .6-1.1 .7 .2 .6 1.4 .6-2.6 .6 1.4 .6 .4 .7-.8 .6-.3 .6 .2 .6 1.1 .6-.6 .7-.6 .6 .1 .6-.1 .6 1.1 .6-.3 .7-.4 .6 2.4 .6-2 .6-.6 .6 .1 .7 .7 .6-.2 .6-.7 .6 .7 .6 1 .7-1.4 .6 1.6 .6-.6 .6-2.2 .6 4.2 .7-3.2 .6 .2 .6-.1 .6 .5 .6-.5 .7 .6 .6 .7 .6-.9 .6 .2 .6-.5 .7-.2 .6-.2 .6 1.8 .6-.9 .6-1 .7 1.7 .6 .1 .6-.1 .6 .1 .6 .2 .7-1.8 .6 5.1 .6-3.9 .6 .8 .6-2.3 .7 2.4 .6 .2 .6-1.6 .6 1.2 .6-.6 .7-1 .6 2.1 .6 .1 .6-.6 .6 1.7 .7-2.1 .6 .5 .6 .6 .6-2.7 .6 2.1 .7 3.6 .6-3.8 .6-.8 .6 .2 .6 .8 .6 .1 .7 0 .6 .7 .6-1.2 .6 .1 .6-.8 .7 1.8 .6-2 .6 .4 .6 .3 .6 .8 .7-.7 .6 .8 .6-.9 .6 .7 .6 .6 .7-.4 .6 .6 .6-1.2 .6 .8 .6 .4 .7-2.3 .6 1.8 .6-.9 .6 1.4 .6-.8 .7 .8 .6-.9 .6 .3 .6-1.4 .6 3.3 .7-1.6 .6-1.1 .6 2.5 .6-2 .6 .6 .7-.2 .6 .7 .6-.1 .6 1 .6-1 .7-.2 .6 .4 .6-1.7 .6 1 .6-.9 .7 .5 .6 4.6 .6-4.4 .6-.1 .6 0 .7-1.2 .6 0 .6 .4 .6-1 .6 .6 .7-1 .6-2.3 .6-1.1 .6-1.8 .6-3.3 .7-2.5 .6-4.8 .6-7.3 .6-9.2 .6-10.1 .7-8 .6-8.8 .6-8 .6-1 .6 3.2 .7 7.8 .6 3.8 .6 13.5 .6 9.2 .6 8.4 .7 5.7 .6 6.1 .6 4.2 .6 2.8 .6 1.4 .7 1.2 .6 5.9 .6-4.2 .6 1.4 .6-.9 .7 2.1 .6 1 .6-1.7 .6 .2 .6 1.3 .7-.1 .6-.8 .6 .2 .6 1.2 .6 .1 .7-.6 .6-.5 .6-.4 .6 1.5 .6-.2 .6 .9 .7-.4 .6 4 .6-2.7 .6-2.1 .6 .6 .7 .8 .6-1.2 .6 .9 .6 4.4 .6-1.2 .7-3.1 .6-1.2 .6 1.4 .6-1.6 .6 .9 .7-.3 .6 .7 .6 .9 .6-1.5 .6 1.4 .7-1.4 .6 .1 .6 .7 .6 .5 .6-.1 .7 1.1 .6-.9 .6 1.3 .6-.9 .6-1.6 .7 .4 .6 .9 .6-.4 .6 0 .6-1.8 .7 2.4 .6-.2 .6-.6 .6-.2 .6 .6 .7-.9 .6 .5 .6 .5 .6 0 .6-.3 .7-.1 .6-.3 .6-.5 .6 .9 .6-.6 .7-.1 .6 1 .6 1 .6-1.4 .6-.2 .7-.6 .6 2.2 .6-1.8 .6-2.7 .6 .2 .7 2.1 .6 .6 .6 2.9 .6-2.9 .6-2.1 .7 2.1 .6 .5 .6-.5 .6 1.4 .6-1.6 .7 2.1 .6-1.6 .6 .2 .6-.9 .6 .4 .7-.2 .6 .1 .6 .7 .6-.6 .6-.3 .7 .9 .6-.7 .6 .3 .6-.8 .6 .8 .7 .1 .6 .4 .6-.1 .6-.6 .6-.5 .7 1.9 .6 2.8 .6-4.1 .6-.2 .6 .9 .7 .1 .6-.5 .6-.5 .6 0 .6 .7 .6-.6 .7 .5 .6 0 .6-.8 .6 .6 .6-.5 .7 .1 .6 .6 .6 .2 .6-.6 .6 .2 .7-1 .6 .7 .6 .2 .6 .8 .6-.5 .7-.6 .6 1.3 .6-.1 .6-1.2 .6 .1 .7 .6 .6-.3 .6 .3 .6 3.4 .6-4.4 .7 .1 .6-.9 .6 .5 .6 .7 .6 .4 .7-.8 .6 .4 .6 0 .6-.3 .6 .5 .7 .4 .6-.7 .6 .5 .6 2.5 .6-3.1 .7 1 .6 .3 .6-2.2 .6 .8 .6 .7 .7-.4 .6-1.9 .6 2.5 .6 0 .6 .4 .7-1.1 .6-.6 .6-.1 .6 .8 .6-.8 .7 .8 .6-.6 .6-.2 .6 1.2 .6-.4 .7 .2 .6 .3 .6-.5 .6-.7 .6 2.1 .7-1 .6-.4 .6-1.2 .6 1.6 .6-.3 .7-1.4 .6 1.4 .6-.7 .6 .6 .6 .9 .7-1.4 .6 5.1 .6-3.7 .6-1.9 .6 .4 .7 .5 .6-.7 .6-.2 .6 .5 .6 1 .7-.1 .6-1.5 .6 .8 .6-.9 .6 1.3 .7-1 .6 1.5 .6-1.7 .6 3.1 .6-3.5 .7 1.9 .6-.5 .6-.5 .6-3.4 .6 1.6 .6 .1 .7 1.6 .6-.8 .6-1.6 .6 .2 .6 1 .7-1.9 .6-.8 .6-1.3 .6-1.1 .6-2.7 .7-4.1 .6-4.3 .6-2.9 .6-11.2 .6-7.7 .7-5.6 .6-6.2 .6-1.7 .6 4 .6 4.8 .7 4.3 .6 6.1 .6 7.3 .6 2.8 .6 .4 .7 4 .6-4.8 .6-4.2 .6 1.2 .6-13.7 .7-7.2 .6-3.8 .6-1 .6 .1 .6 3 .7 9.1 .6 6.2 .6 6.7 .6 8.6 .6 4.3 .7 4.2 .6 2.4 .6 1 .6 2.7 .6-.5 .7 .1 .6 2.6 .6-.3 .6-.1 .6 1.5 .7 .8 .6-1.2 .6 .8 .6-.5 .6 .6 .7-.1 .6 .2 .6-.4 .6-.5 .6 .6 .7-.2 .6 3.1 .6-3.8 .6 .3 .6-.3 .7 5.3 .6-3.7 .6-.8 .6 5 .6-4.6 .7 .1 .6 0 .6 .8 .6-1.6 .6 1.5 .7-1 .6 .1 .6 1.2 .6-1.8 .6 .4 .7-1.2 .6-.1 .6 1.7 .6 .8 .6-1.5 .7-.8 .6 .7 .6-1.5 .6 .9 .6 .4 .7-.6 .6-.7 .6-1.2 .6 3.1 .6-4.2 .6-2 .7-1.2 .6-2.9 .6 1.4 .6-3.6 .6-7.9 .7-1.2 .6-.3 .6-.5 .6 .8 .6 1.2 .7 3.7 .6 3.3 .6 2.4 .6 1.6 .6-.7 .7 3.2 .6 1.3 .6 .8 .6 1.1 .6 3 .7-3.6 .6-.5 .6 .1 .6 .5 .6-.2 .7-.4 .6-1.3 .6-.1 .6 1.2 .6 1.6 .7-2.9 .6-1.6 .6-2.5 .6 0 .6-1 .7 .8 .6-4.8 .6-1.3 .6-2.8 .6-2.1 .7-4.8 .6-7.1 .6-6.2 .6-15.8 .6-17.3 .7-20.3 .6-30.5 .6-46.8 .6-36 .6-41.6 .7-36.1 .6-14.7 .6 4.5 .6 14.2 .6 40.5 .7 33.5 .6 37.4 .6 36.7 .6 28.3 .6 24.8 .7 18.1 .6 15.8 .6 7.8 .6 8.9 .6 5.2 .7-2.7 .6 9.1 .6 0 .6 3.6 .6 1.6 .7-.9 .6 4.4 .6-.7 .6 .4 .6 1.8 .7 .8 .6 .5 .6-2 .6 3.6 .6-.2 .7-.3 .6 1.1 .6-1.4 .6 5.9 .6-4.5 .7-.1 .6 .7 .6-.7 .6 4.1 .6-3.5 .7-.6 .6 0 .6 1.8 .6 .2 .6-2.6 .7 .9 .6 2.1 .6-2.1 .6 .4 .6-.1 .6-.8 .7 1.1 .6-.6 .6 .7 .6-1.6 .6 .4 .7-.7 .6 .3 .6 .9 .6-1.7 .6-1.2 .7-2.4 .6-2.7 .6-6.2 .6-9.3 .6-12.1 .7-12.2 .6-20.8 .6-17.2 .6-3.1 .6 3.9 .7 4.2 .6 9.9 .6 14.4 .6 17.2 .6 12.2 .7 9.7 .6 6.2 .6 5.5 .6 4.6 .6-3.8 .7 3.9 .6 2 .6-.2 .6 .6 .6 .6 .7-.6 .6 1.2 .6-.6 .6-.4 .6 0 .7-.6 .6 1.3 .6-.2 .6 .1 .6 .9 .7 1 .6-.6 .6 .6 .6-1.2 .6-1 .7 .6 .6-1 .6 1.3 .6-1.5 .6 .5 .7 .8 .6-.7 .6 1.6 .6 2.8 .6-3.4 .7-.8 .6 .6 .6 0 .6 3.8 .6-2.9 .7-.8 .6 0 .6 .8 .6-1.2 .6-.3 .7 6.9 .6-6 .6 1.2 .6-.6 .6-.3 .7-.4 .6 .1 .6-.1 .6 .3 .6 .7 .7-.8 .6 .5 .6-.6 .6 .4 .6-.1 .7 1.2 .6-1.3 .6 .5 .6-.5 .6 .4 .7-1.4 .6 .3 .6-.5 .6 1.8 .6-.8 .7 .5 .6 .4 .6-.9 .6 .9 .6 .5 .6-.9 .7-.6 .6 .8 .6-.1 .6 .1 .6-1.1 .7 .2 .6 .4 .6 .7 .6-.4 .6-1.9 .7 2.5 .6-.8 .6 1.4 .6-.7 .6-.1 .7-.1 .6-1.4 .6 2.1 .6-1 .6 .4 .7 3.6 .6-3.5 .6 .5 .6-1.1 .6-.1 .7 1 .6-.9 .6 .1 .6 1.8 .6-1.8 .7 .3 .6 .2 .6 .1 .6 .6 .6-.9 .7 .7 .6-2.1 .6 1 .6-1.4 .6 .5 .7-.6 .6 .2 .6-.6 .6-.9 .6-.5 .7-1.8 .6-.6 .6-3.6 .6-4.9 .6-17.5 .7-7.9 .6-14.9 .6-18.9 .6-13.6 .6-6.2 .7-.8 .6 11 .6 11.3 .6 13.7 .6 13.2 .7 12.8 .6 11.5 .6 6.9 .6 4 .6 3.5 .7 2.2 .6 .6 .6 .9 .6 .7 .6 .7 .7-.3 .6 .9 .6 .7 .6 0 .6-.3 .7 .5 .6 .5 .6-1.4 .6 1.7 .6-.3 .7-1.1 .6 1.2 .6-.1 .6 .7 .6-.9 .7 1.2 .6-1.7 .6 .9 .6-.6 .6 .7 .7 .6 .6-.4 .6-1.3 .6 .7 .6 .3 .7-.9 .6 2 .6-.9 .6-.9 .6 1.3 .6-.9 .7 .5 .6-1.1 .6 .5 .6 .3 .6 .3 .7 .2 .6 .5 .6-.2 .6 .7 .6-1.2 .7-.4 .6-1.1 .6 1.1 .6-.8 .6 1.7 .7-.2 .6-.7 .6 .7 .6-1.1 .6 0 .7 .7 .6 .2 .6-.2 .6 .4 .6-1.7 .7 1 .6-1 .6 1.6 .6-1.9 .6 1.5 .7-.3 .6-.5 .6-.5 .6-.4 .6 .8 .7 .4 .6-2 .6 .6 .6-.1 .6-1 .7-2 .6-.2 .6-3.5 .6-1.7 .6-3.4 .7-.4 .6 .6 .6 2.5 .6 0 .6 .8 .7 .7 .6 3.7 .6 .6 .6 2.2 .6 2.7 .7-1.4 .6 1 .6-.2 .6 .9 .6 .1 .7-.2 .6 .6 .6 .1 .6 1.7 .6-1.9 .7 .5 .6-1.4 .6 .8 .6-.5 .6 1.3 .7-.2 .6-.4 .6-.1 .6 .8 .6-1.5 .7 2.1 .6-1.1 .6 .6 .6 0 .6 0 .7-1.6 .6 2 .6 .8 .6-.1 .6-1.3 .7 0 .6-.2 .6-.7 .6 1.8 .6-.3 .7-.7 .6 .8 .6-.3 .6 1 .6-.5 .7-.8 .6 2.7 .6-2.4 .6 1.8 .6-3.2 .6 .8 .7-.2 .6-.1 .6 1.7 .6-.6 .6 .6 .7-1 .6 .5 .6-.5 .6 .7 .6-.5 .7-2.6 .6 5.2 .6-2 .6-.4 .6-.5 .7-.4 .6 1.3 .6-1.2 .6 1.1 .6-1.6 .7 1 .6 .5 .6-.6 .6-.7 .6 .4 .7-.4 .6 .2 .6-1.7 .6 .5 .6 0 .7-.7 .6-2.2 .6 .1 .6-1.5 .6-1.2 .7-4 .6-1.4 .6-3.2 .6-4.9 .6 .9 .7-3 .6 1.5 .6 1.8 .6 .7 .6 2 .7 2 .6 2.8 .6 2.5 .6 2.1 .6 .9 .7 1.7 .6 2.3 .6 .3 .6 1 .6-.6 .7 2 .6-1.1 .6 .1 .6 .8 .6 .2 .7-.5 .6 1.3 .6-.5 .6 .5 .6 1.9 .7 .5 .6-3 .6 1.2 .6-1 .6-1 .7 .4 .6-.6 .6 2.8 .6-.1 .6-2.9 .7 .8 .6 1.2 .6-1.4 .6 .2 .6 .1 .7-.1 .6-.3 .6 .2 .6 .2 .6-.1 .7 .1 .6 .1 .6 0 .6 .2 .6-.3 .7-.4 .6-2.6 .6 3.1 .6-1.2 .6-.1 .6 1 .7 .5 .6-1.4 .6 1.9 .6 1.3 .6-3.4 .7 4.9 .6-7.1 .6 3.4 .6-1 .6 .7 .7-1.5 .6 0 .6 .1 .6-1.1 .6-.9 .7-1.2 .6-3.1 .6-2.4 .6-5.7 .6-4.5 .7-8.1 .6-4.3 .6-6 .6-2.3 .6 1.9 .7 3.8 .6 1 .6 6.4 .6 7.8 .6-.4 .7 6.1 .6 3.7 .6 3.4 .6 1.7 .6 1.4 .7 1.5 .6 .7 .6-.3 .6 .8 .6 .5 .7 .9 .6 .5 .6-.1 .6-.9 .6 .6 .7-.3 .6 1.5 .6 .3 .6-1.2 .6 4.4 .7-4 .6 .9 .6-1 .6-.2 .6 1.2 .7-3.2 .6 2.2 .6 .4 .6 .6 .6-.1 .7-.3 .6-.8 .6 .7 .6 1.1 .6 0 .7-1.2 .6 .3 .6-.7 .6 .2 .6-.2 .7-.2 .6 .2 .6 .4 .6 1.5 .6-1.7 .7-.1 .6 .2 .6 1.2 .6-1.1 .6-.4 .7 3.4 .6-2.5 .6-.6 .6 .9 .6-1.8 .7 1.1 .6-.7 .6 .7 .6 .6 .6-1.8 .7 .4 .6 3.3 .6-3.5 .6 .4 .6-2.4 .7 .2 .6-1.8 .6-1.8 .6-2.7 .6-2.3 .6-3.5 .7-1.2 .6-2.8 .6-1.1 .6 2.2 .6 1.8 .7 .6 .6 .6 .6 3 .6 1.8 .6 2.9 .7 3.2 .6 .8 .6 1.5 .6 1.2 .6-.4 .7-.5 .6 .7 .6 .3 .6 .1 .6 .7 .7-1.2 .6 .6 .6 .2 .6 1.9 .6-2.1 .7-.1 .6 .9 .6 1 .6-1.7 .6 .9 .7-.2 .6 0 .6-.1 .6 .4 .6-1.1 .7-.9 .6 .6 .6 .4 .6-.9 .6-.7 .7-.5 .6-1.1 .6-.5 .6-.9 .6-.9 .7 .1 .6-5.7 .6 2.6 .6 .1 .6-.1 .7-2.1 .6 2.1 .6-.9 .6 2.8 .6 .7 .7 1.2 .6 .5 .6 .7 .6 .1 .6 .4 .7 .9 .6 .2 .6 .9 .6 .4 .6 4.2 .7-4.4 .6-1.1 .6 2.2 .6-2.4 .6-.6 .7-.2 .6-2.2 .6-2.9 .6-1.5 .6-5.1 .7-1.3 .6-9 .6-5.5 .6-3.7 .6-.4 .7 .9 .6 .4 .6 2.5 .6 4.6 .6 3.5 .7 5.5 .6 4.3 .6 3 .6 2.3 .6 2.8 .7 2.7 .6-.4 .6 0 .6 1.7 .6 1.7 .7-1 .6-.9 .6 1.6 .6-.3 .6 .6 .6-.4 .7 1.8 .6 1.6 .6-2.6 .6-.5 .6 .3 .7 .7 .6-.3 .6 .6 .6-.2 .6-.2 .7-.5 .6-.9 .6 1.3 .6 2.7 .6-2.9 .7 1.6 .6-1.9 .6-.2 .6 1.2 .6-.2 .7-1.5 .6 1.1 .6 4.7 .6-4.2 .6-1.5 .7 1.2 .6 .4 .6-.7 .6-1 .6 1.9 .7 .5 .6-2.2 .6 1 .6-.7 .6 .2 .7 1.4 .6 .2 .6-1.9 .6 1.3 .6-.7 .7 1 .6-1.3 .6 1.1 .6 .1 .6-1.4 .7 .3 .6 .6 .6-.8V777.7"/>
<path stroke-width="2.4" d="M24.2 777.7H953.9"/>
<path fill="#FF00A0" d="M24.2 816.3V784.6l.6-.9 .6 1.9 .7-.6 .6-.4 .6-.6 .6-.7 .6 1.1 .7 .2 .6-.3 .6 .3 .6 .3 .6-1.4 .7 .9 .6-.5 .6 2.3 .6-.6 .6-.4 .7 3.7 .6-4.1 .6 .1 .6-.8 .6-1.2 .7 1.9 .6-1.1 .6-.8 .6-1.6 .6 1.6 .7-2.5 .6-1.1 .6-2.6 .6-7.8 .6 6.7 .7-.5 .6 .3 .6 1.6 .6 4.5 .6-3 .7 4.9 .6 1.4 .6 .5 .6 .4 .6 1.2 .7-.6 .6 1.4 .6 .5 .6 .7 .6 4.9 .7-6.1 .6 5.5 .6-4.7 .6 1.2 .6-1.2 .6 1.7 .7 1.9 .6-1.2 .6-.3 .6 .1 .6-.5 .7 1 .6 .7 .6-1.2 .6 .8 .6-1.4 .7 4.4 .6-3.4 .6 .7 .6 .5 .6-1.2 .7 1 .6 1 .6-1.3 .6 .7 .6 .2 .7 3 .6-1.9 .6-1.4 .6 .4 .6 .2 .7 .1 .6 .7 .6 0 .6-.7 .6 .2 .7-.7 .6 1.4 .6-1.3 .6 3.2 .6-1.3 .7-2.2 .6 3.6 .6-2.3 .6-.1 .6-.7 .7 2.1 .6-2.1 .6 2.6 .6-2.5 .6 2.5 .7 .4 .6-2.5 .6 1.6 .6-1.4 .6 .5 .7 .9 .6 .3 .6-2.1 .6 .9 .6 1 .7-1.4 .6 1.4 .6-1.4 .6 1.4 .6-1 .7-.6 .6 1.4 .6-4.6 .6 4.6 .6-1.6 .7 1.2 .6-.8 .6 .6 .6-2.1 .6-2.7 .7 2 .6-1.7 .6-1.8 .6-1.6 .6-1.5 .7-3.4 .6 2.5 .6-1.8 .6 4.1 .6 2.1 .7 1.7 .6 1.9 .6 4.8 .6-3.3 .6 1.3 .7-.9 .6 .7 .6-1.3 .6 .2 .6 2.2 .7-1.2 .6-.2 .6 .8 .6 .1 .6-.5 .7 .1 .6 1 .6-.9 .6 .1 .6-.5 .6 .8 .7 .9 .6-1 .6-.3 .6 1.2 .6-.9 .7-.2 .6 .8 .6 .6 .6-1.4 .6-1.2 .7 .2 .6 1.9 .6 .2 .6 .4 .6-1.1 .7 .5 .6 .1 .6-1 .6 .9 .6-1.6 .7 1.6 .6 0 .6 .5 .6-1.7 .6 1 .7-.6 .6 1.4 .6-.5 .6-.5 .6 1.9 .7-1.5 .6-.1 .6 1.4 .6-1.3 .6 1.1 .7-.1 .6 0 .6-4.4 .6 4.7 .6-.2 .7-.5 .6 .7 .6-1 .6 1.2 .6-.2 .7-.2 .6-.1 .6 0 .6-1 .6 1.9 .7-1.2 .6-1.1 .6 1.5 .6 .3 .6 .3 .7-.2 .6-.3 .6 0 .6-1.4 .6 1.4 .7 .7 .6 1 .6 .4 .6-1.8 .6 .7 .7-.5 .6 1.5 .6-1.8 .6 1.3 .6 .8 .7-.4 .6-1.3 .6-.4 .6 1.1 .6 .6 .7-1.3 .6 .2 .6 2.7 .6-1.8 .6-.2 .7 .5 .6-1.4 .6 1.9 .6-1 .6 .9 .7-.3 .6-.1 .6-.2 .6 1.2 .6-1.3 .7 .5 .6-.7 .6 2.1 .6-.4 .6-.7 .6 .5 .7 1.3 .6-.3 .6 .4 .6-1.2 .6-.3 .7 2.5 .6-2.2 .6-.6 .6 1.1 .6 0 .7-1.1 .6 2.4 .6-1.8 .6-.3 .6 .6 .7-.4 .6-.5 .6 1.2 .6-.6 .6 3.8 .7-3.4 .6-.4 .6-.7 .6 1.8 .6-1.2 .7 1.7 .6 2 .6-3.6 .6 1.3 .6 3.6 .7-4.1 .6 .6 .6-1.3 .6-1.7 .6 1.9 .7 .1 .6 1.1 .6 3.2 .6-4.1 .6 .9 .7-1.3 .6 1.4 .6-.9 .6 .3 .6-.4 .7 1.7 .6-1.6 .6 .7 .6 .3 .6-.5 .7 .4 .6-1.2 .6 2 .6-2 .6-.5 .7 1.2 .6-.1 .6 0 .6-.4 .6 .2 .7 .7 .6-1 .6 .3 .6 .6 .6-.7 .7-.1 .6 .6 .6-1.2 .6 1.5 .6 .2 .7-2.2 .6 2.7 .6 .2 .6-1.8 .6 .4 .7-.1 .6 1 .6-.1 .6 .1 .6-.6 .7 0 .6-.9 .6 .5 .6-.5 .6 .5 .7 1.2 .6-1.5 .6 4.6 .6-4.7 .6-.3 .7 1.2 .6-1.5 .6 3.4 .6-2.4 .6-.1 .7 .2 .6-1 .6 .8 .6-.7 .6 4.3 .6-3.1 .7-.7 .6 .3 .6-1.2 .6 1.5 .6-.2 .7-.1 .6 .9 .6-.7 .6-.3 .6 1.3 .7-1.9 .6 1.4 .6-1.9 .6 .6 .6 .6 .7-.2 .6 1.3 .6 0 .6-2 .6 .6 .7 .7 .6-.1 .6-1 .6 .3 .6 .8 .7 .3 .6-1 .6 .4 .6-.1 .6 .2 .7 .2 .6-1.4 .6 .7 .6 .8 .6-.8 .7 .1 .6 1.7 .6-1.2 .6-.4 .6-.3 .7 .6 .6-.5 .6 1.2 .6-1.6 .6-.4 .7 1.5 .6-.4 .6-1.7 .6 1.8 .6-.2 .7-1 .6 2 .6 .1 .6 2.4 .6-6.3 .7 2.5 .6-1.2 .6-1.6 .6 .4 .6-2.2 .7-2.9 .6-4.5 .6-2 .6-6.6 .6-3.3 .7-6 .6-4.6 .6 0 .6-1.8 .6 2 .7 3.2 .6 11.3 .6-.7 .6 5.2 .6 5.1 .7 6.6 .6-1.3 .6 .6 .6 3.3 .6-.9 .7 1.7 .6-.2 .6 4.1 .6-1.9 .6-3.2 .7 2.9 .6-1.4 .6 1.8 .6-.8 .6-.3 .7 .6 .6 1.6 .6-.4 .6-.7 .6 .3 .7 .5 .6-.8 .6 .4 .6-.2 .6-.7 .6 1.4 .7-.4 .6 4.7 .6-4.3 .6-.5 .6-1.4 .7 1.7 .6-.3 .6 .8 .6-.2 .6 3.9 .7-4.2 .6 .3 .6-1 .6 .8 .6 .5 .7-1.7 .6 2.2 .6 .5 .6-1.8 .6 .4 .7-2.9 .6 3.3 .6 .5 .6-1.5 .6-.6 .7 2.1 .6-.3 .6-.5 .6-.1 .6-.5 .7 1 .6 .7 .6-1.2 .6-2.7 .6 2.8 .7 .7 .6-.8 .6-.7 .6-1.4 .6 1.5 .7 1.6 .6-1.6 .6 1 .6-.5 .6 1.2 .7-1.6 .6 .8 .6-.8 .6 .4 .6 .8 .7-1.3 .6-.2 .6 .8 .6 .3 .6-.6 .7 .2 .6 .7 .6 .3 .6-1.3 .6 1 .7 .1 .6-.7 .6 .1 .6-1.2 .6 1.6 .7-.4 .6 2 .6-1.5 .6 .4 .6 .6 .7-1.3 .6-.5 .6 0 .6 1 .6-1.4 .7 .8 .6-.2 .6 4.7 .6-4.4 .6-.5 .7 .7 .6-1.1 .6 1.4 .6-.1 .6 .2 .7 .1 .6 .9 .6-1 .6-1.8 .6 .7 .7 .7 .6-1.3 .6 1.3 .6 .2 .6 0 .7-1.2 .6 .3 .6 .6 .6 0 .6 .1 .6-.7 .7-.1 .6 0 .6 0 .6 .2 .6 .7 .7 .3 .6-.2 .6-.1 .6-1.8 .6 1.1 .7-.4 .6 1 .6-.9 .6 .5 .6-.7 .7 1.7 .6-1.9 .6 .7 .6 .7 .6-.7 .7 .9 .6-1.2 .6-.2 .6 1 .6 0 .7-.3 .6 .1 .6-.8 .6 1.2 .6-.1 .7-.2 .6-.9 .6 3.7 .6-3.9 .6 1.9 .7-2.4 .6 3.3 .6-2 .6 .1 .6 0 .7-1.5 .6 .7 .6 0 .6 1.3 .6-2 .7 2.2 .6-1.2 .6-.5 .6 .5 .6 .2 .7-.2 .6 1.1 .6-1.1 .6 .4 .6-.6 .7 .8 .6-.8 .6 1.3 .6-1.3 .6 3.9 .7-2.6 .6-.2 .6 .4 .6-.8 .6 1.3 .7-1.3 .6 .4 .6-.7 .6 .3 .6-1.5 .7 .9 .6 .3 .6-.2 .6-.3 .6 .4 .7 .5 .6-1 .6 .2 .6 1.9 .6-1 .7-.7 .6-.8 .6 .3 .6 .5 .6-.1 .7-.3 .6 .5 .6-.7 .6 1.2 .6-1.1 .7 1.1 .6-.4 .6-.4 .6-.8 .6 2.3 .7-2.4 .6 1.2 .6-.7 .6-1.2 .6 1.4 .6 1 .7-2.8 .6 1 .6-2.8 .6 1.8 .6 .8 .7-.5 .6-.4 .6-1.9 .6-1 .6-2.6 .7-3.6 .6-3.1 .6-1.5 .6-11.4 .6-4.5 .7-6.4 .6-8.2 .6 1.2 .6 .6 .6 4 .7 7.6 .6 4.5 .6 3.9 .6 4 .6-.8 .7 .4 .6-2.8 .6-3 .6-5.8 .6-7.2 .7-7.5 .6 1 .6 4.4 .6-2.4 .6 6.8 .7 14 .6-.9 .6 6.6 .6 6 .6 2.8 .7 .6 .6 3.9 .6-.5 .6 3 .6-.6 .7 1.1 .6 .2 .6-.8 .6 1 .6-.3 .7 2 .6-.6 .6-1.7 .6 .4 .6 .9 .7-.2 .6-.1 .6 .1 .6 .1 .6 0 .7-.1 .6-.8 .6 1.3 .6 1.2 .6-1.8 .7-.8 .6-.1 .6 1.1 .6-.2 .6-1.4 .7 2.8 .6-1.4 .6 .1 .6 .8 .6-.9 .7 .2 .6 .7 .6-.6 .6-1.6 .6 1.4 .7 .2 .6-1.2 .6 .7 .6-.3 .6-.1 .7 .4 .6-.7 .6 1 .6-1.1 .6 .5 .7-3.4 .6 4.3 .6-3.4 .6-.2 .6-1.4 .6 0 .7-.9 .6-5.1 .6-1.7 .6 1.5 .6-4.9 .7-7.3 .6 1.3 .6-.1 .6 2 .6 5.3 .7-1.3 .6 5.8 .6 .5 .6 .9 .6 1.9 .7 2.7 .6-.5 .6 1 .6 2.2 .6-2.3 .7 1.2 .6 0 .6-.9 .6 1.6 .6-2.2 .7-.5 .6 .9 .6-1.6 .6-.4 .6 1.8 .7-1.1 .6 1.4 .6-3.5 .6 2.8 .6-3.6 .7-1.7 .6-1.9 .6-1.3 .6-3.1 .6-2.6 .7-3.9 .6-5.2 .6-7.5 .6-16.8 .6-12.9 .7-23.6 .6-30.3 .6-30.6 .6-37.3 .6-27.1 .7-18.5 .6-5.6 .6 15.8 .6 22.3 .6 26.7 .7 33.5 .6 30 .6 29.4 .6 19.4 .6 13.2 .7 13.2 .6 7.8 .6 3.2 .6 6.2 .6 1.4 .7 2.9 .6 1.8 .6 1 .6 1.5 .6 1.6 .7 3.5 .6-3 .6-.6 .6 1.4 .6 .9 .7 1.8 .6-1.3 .6-.4 .6 1 .6-.1 .7 1.8 .6-1.7 .6 .7 .6-.7 .6-.2 .7 .7 .6 .5 .6 .2 .6 .2 .6 0 .7-.5 .6 .5 .6-.3 .6-.8 .6 .9 .7-.3 .6-.3 .6 .8 .6-.4 .6 .1 .6 .5 .7 .1 .6-2.5 .6 2 .6-.7 .6 .7 .7 .1 .6 .6 .6-1.7 .6-1.9 .6 .3 .7-.6 .6-.6 .6-7.6 .6-6.4 .6-7.7 .7-12.8 .6-13.9 .6-8.1 .6-7.4 .6 3.2 .7 6.5 .6 7.9 .6 8.5 .6 14.3 .6 7.8 .7 7.6 .6 3.8 .6 2.9 .6 2.6 .6 1.9 .7-.1 .6 2 .6-1.6 .6 1.3 .6 1.3 .7-.8 .6-1.3 .6 .4 .6 .7 .6 1.8 .7-1.3 .6-.4 .6 1 .6-1.2 .6 1.3 .7-.1 .6-1.9 .6 1.7 .6 .5 .6-.3 .7-.8 .6 1.5 .6-.7 .6-.3 .6 .4 .7-.4 .6 1.1 .6-1.7 .6 .5 .6-.5 .7 .3 .6 0 .6 .9 .6-.6 .6 1 .7-.9 .6 1.1 .6-1.4 .6-.1 .6 1.3 .7-.2 .6 .1 .6 .8 .6-1 .6 1 .7-.4 .6 0 .6-.8 .6-.4 .6 .1 .7 .9 .6 1.3 .6-2.8 .6 5.5 .6-5.7 .7 .8 .6 3.6 .6-3.1 .6 .4 .6-.6 .7-1.7 .6 3.1 .6-1.2 .6 .1 .6 .9 .7-1 .6 .2 .6-1.3 .6 1.2 .6-.7 .6 .9 .7 .2 .6-.8 .6 1 .6-.5 .6-.1 .7 .4 .6-.3 .6-1.4 .6 1.9 .6 .3 .7-1.7 .6 1.7 .6 .3 .6-.4 .6-.8 .7-.3 .6 .9 .6-.6 .6 5.1 .6-5.4 .7 .3 .6 .4 .6 0 .6-1 .6 3.3 .7-2.1 .6-1.1 .6 1.6 .6-.3 .6-1.2 .7 1 .6 .5 .6-.1 .6-1.1 .6 .1 .7 .5 .6-1.1 .6 1 .6 .2 .6-1.6 .7 1.2 .6-1.5 .6-1.2 .6 .8 .6-.5 .7-3.4 .6-2.9 .6-6.1 .6-5.6 .6-11.4 .7-13.4 .6-19.4 .6-14.6 .6-3.7 .6 1 .7 5.2 .6 11.4 .6 9.3 .6 13.4 .6 13.7 .7 9.8 .6 6.9 .6 8.5 .6-3.2 .6 3.4 .7 1.3 .6 1 .6 .1 .6-.5 .6 .6 .7 2.1 .6-1.6 .6 0 .6 .1 .6-.3 .7 .7 .6-1.2 .6 2.1 .6 2.1 .6-1.9 .7-.1 .6-1.4 .6 .5 .6 1.2 .6-.8 .7 1.6 .6-.6 .6 0 .6 .6 .6-1.4 .7 5.3 .6-4.8 .6-1 .6 .5 .6 .9 .7-.1 .6-.6 .6 1.2 .6-1.2 .6 0 .6-.6 .7 .8 .6 0 .6 1.3 .6-1.3 .6-.5 .7 3.8 .6-3 .6 .2 .6 .1 .6-.5 .7 1 .6 1.3 .6-2.1 .6-.5 .6 .5 .7-.1 .6 4.7 .6-6.1 .6 .6 .6 .6 .7 .8 .6-2 .6 .9 .6-2.3 .6 3 .7-1.9 .6 .6 .6 1.4 .6-.6 .6-.1 .7-.5 .6-.4 .6 .5 .6-.3 .6-.3 .7 .4 .6-1 .6 .1 .6-2 .6-1.2 .7-1.7 .6-1.2 .6-4.4 .6-.6 .6 .1 .7 .3 .6-.2 .6 1.1 .6 1.2 .6 1.3 .7 2.9 .6 1.3 .6 .8 .6 2.5 .6-2 .7 1.6 .6 .9 .6-.1 .6 .7 .6 .4 .7-.2 .6 .3 .6-.5 .6 .8 .6-.7 .7-.3 .6 .8 .6 .4 .6 1 .6-.4 .7 .4 .6-2 .6 .7 .6 1.8 .6-1.3 .7 1.4 .6 3.2 .6-4.7 .6 .9 .6-1.3 .7 .8 .6 .3 .6-.1 .6 .1 .6-.2 .7 1.1 .6-.7 .6 .4 .6-.5 .6 .6 .7 2.3 .6-4 .6-.1 .6 5.6 .6-4.3 .7-.4 .6 .9 .6-.4 .6 .5 .6-.9 .6 1.1 .7-2 .6 5.6 .6-4.3 .6-1 .6 .7 .7 1.9 .6-2.1 .6 .5 .6-.4 .6 1.6 .7-2.8 .6 2.7 .6-2 .6 1.6 .6 0 .7-1.4 .6 1 .6-1.8 .6 .3 .6 .7 .7 .6 .6-.1 .6-.6 .6 0 .6 .5 .7-.4 .6-.3 .6-.7 .6 1 .6-.7 .7-1.1 .6-.4 .6 1.3 .6-3.4 .6-.5 .7-2.9 .6-.8 .6-1.4 .6-5.2 .6 2 .7-.4 .6-1.3 .6-.2 .6 1.4 .6 1.7 .7 2.7 .6-.7 .6 4.6 .6 .1 .6 2.5 .7-.1 .6 .9 .6 .3 .6 1.5 .6 .2 .7 1 .6-.7 .6 .3 .6-.4 .6 3.5 .7-3.8 .6 .2 .6-.5 .6-.1 .6 1 .7-.9 .6 .2 .6 1.5 .6-2 .6 1.6 .7-.6 .6-1 .6 1.3 .6-1 .6 1.1 .7 0 .6-1.2 .6 1 .6 2.2 .6-3.4 .7 .5 .6 .1 .6 .8 .6 0 .6-.6 .7-.2 .6 1.3 .6-.7 .6-.3 .6-.6 .7 .6 .6 .6 .6-.8 .6 .6 .6-.2 .6-.7 .7-1.4 .6 .1 .6 2.3 .6-2.6 .6 2.6 .7-.9 .6 0 .6 2.3 .6-2.7 .6-1.3 .7 .7 .6-.6 .6-.3 .6-1.2 .6-1.1 .7-4.1 .6-2.6 .6-3.6 .6-10.6 .6-1.8 .7-1.1 .6-3.8 .6-.6 .6-.7 .6 1.4 .7 4.3 .6 2.2 .6 4.3 .6 5 .6 4.4 .7 2.2 .6 2.8 .6 2.4 .6 1.9 .6-1.3 .7 1.2 .6 1.3 .6 .6 .6-.8 .6 1 .7-.4 .6-.4 .6 .7 .6-.4 .6-.1 .7 .5 .6-.1 .6 .3 .6 .2 .6 .3 .7 1.2 .6-.6 .6-.9 .6 1.7 .6-2.2 .7 2.7 .6-.9 .6-1.5 .6 .9 .6-1.3 .7 1.5 .6-1.2 .6 1.7 .6-.1 .6 .8 .7-1.6 .6 .9 .6-1.7 .6 2 .6-1.5 .7 0 .6 3.7 .6-3.2 .6-1.5 .6-.3 .7 1.1 .6 .1 .6 .3 .6 1.6 .6-1 .7-.6 .6-.5 .6 1.2 .6 .8 .6-.2 .7-1.2 .6 .6 .6-1.1 .6 0 .6-1.6 .7 2.7 .6-1.3 .6 1.2 .6-2.1 .6-1.2 .7-.1 .6-2.3 .6 1.9 .6-5 .6-2.1 .6-1.3 .7-1.3 .6 0 .6-1.4 .6 1.7 .6 2.3 .7 .6 .6 .4 .6 1.6 .6 1.8 .6 3.1 .7-.3 .6 2.3 .6-1.6 .6 .4 .6 2.5 .7-.8 .6 1.2 .6-.9 .6 .7 .6 .3 .7-1.4 .6 .6 .6-.5 .6 .4 .6 1.1 .7-.3 .6-1.2 .6-.1 .6 1.1 .6-1.8 .7 1 .6-.9 .6 .7 .6-.7 .6 1.2 .7-.5 .6 .8 .6-1.6 .6 .6 .6-1.6 .7 0 .6-.2 .6-1.2 .6-.6 .6-.4 .7-2.7 .6 1.1 .6-2.2 .6-.5 .6 4.4 .7-3.3 .6 .5 .6 .7 .6 .5 .6 .6 .7 .1 .6 .2 .6 .2 .6 2 .6-.9 .7 1.7 .6-1.9 .6 1 .6-.3 .6 1.2 .7 .8 .6 .3 .6-1.5 .6 .6 .6-2.5 .7-1.5 .6-1.2 .6-4.8 .6-3.3 .6-5.3 .7-5.7 .6-3.3 .6-3.9 .6 .5 .6-.5 .7 3.9 .6 .3 .6 3.6 .6 5.6 .6 3.6 .7 3.8 .6 2.2 .6 3.3 .6 2.2 .6 0 .7 2.4 .6 .6 .6 .6 .6 3.1 .6-1.7 .7-1.6 .6 1.8 .6 .5 .6-1.6 .6-.1 .6 .8 .7 .7 .6 1 .6-2 .6 1.2 .6-.8 .7 .6 .6-.9 .6 1.1 .6-.7 .6 4.2 .7-3.7 .6 .4 .6-1.4 .6 2.1 .6-1.8 .7 1.2 .6-.4 .6-1 .6 1.7 .6-1.7 .7 1.1 .6-1 .6 0 .6-.1 .6 1 .7-.5 .6 .7 .6-.6 .6 .4 .6-.9 .7-1.4 .6 1.3 .6 1.4 .6-.7 .6 .1 .7 .9 .6-.3 .6-1.1 .6 1.3 .6-2.4 .7 2.6 .6-1.1 .6-1.2 .6 .8 .6-.3 .7 6.1 .6-5.2 .6 .7V816.3"/>
<path stroke-width="2.4" d="M24.2 816.3H953.9"/>
</g>
<rect x="24.2" y="15.5" width="929.7" height="800.8" fill="none" stroke="#000" stroke-width="2.6"/>
<path d="M24.2 816.3V834.3M101.7 816.3V826.3M179.1 816.3V834.3M256.6 816.3V826.3M334.1 816.3V834.3M411.6 816.3V826.3M489.0 816.3V834.3M566.5 816.3V826.3M644.0 816.3V834.3M721.5 816.3V826.3M799.0 816.3V834.3M876.4 816.3V826.3M953.9 816.3V834.3" stroke="#000" stroke-width="2.8" fill="none"/>
<g font-size="35.5" letter-spacing="-0.3"><text x="8.4" y="814.93" transform="matrix(1 0 0 1.065 0 0)">10</text><text x="164.2" y="814.93" transform="matrix(1 0 0 1.065 0 0)">15</text><text x="319.2" y="814.93" transform="matrix(1 0 0 1.065 0 0)">20</text><text x="473.9" y="814.93" transform="matrix(1 0 0 1.065 0 0)">25</text><text x="628.4" y="814.93" transform="matrix(1 0 0 1.065 0 0)">30</text><text x="783.2" y="814.93" transform="matrix(1 0 0 1.065 0 0)">35</text><text x="937.9" y="814.93" transform="matrix(1 0 0 1.065 0 0)">40</text></g>
<g font-size="31.6" letter-spacing="-1.2"><text x="957.3" y="513.90" transform="matrix(1 0 0 1.050 0 0)">Amb</text><text x="957.3" y="558.38" transform="matrix(1 0 0 1.050 0 0)">100</text><text x="957.3" y="594.67" transform="matrix(1 0 0 1.050 0 0)">200</text><text x="957.3" y="632.19" transform="matrix(1 0 0 1.050 0 0)">300</text><text x="957.3" y="667.14" transform="matrix(1 0 0 1.050 0 0)">350</text><text x="957.3" y="702.48" transform="matrix(1 0 0 1.050 0 0)">400</text><text x="957.3" y="743.43" transform="matrix(1 0 0 1.050 0 0)">450</text><text x="957.3" y="782.57" transform="matrix(1 0 0 1.050 0 0)">500</text></g>
<g font-size="46.0"><text x="414.00" y="905.9">2</text><text x="0" y="905.9" letter-spacing="-1.6" transform="matrix(0.92 0 0 1 449.07 0)">Theta</text><text x="561.55" y="905.9">(</text><text x="574.69" y="883.3" font-size="24">o</text><text x="589.92" y="905.9">)</text></g>
</svg>
</body></html>
